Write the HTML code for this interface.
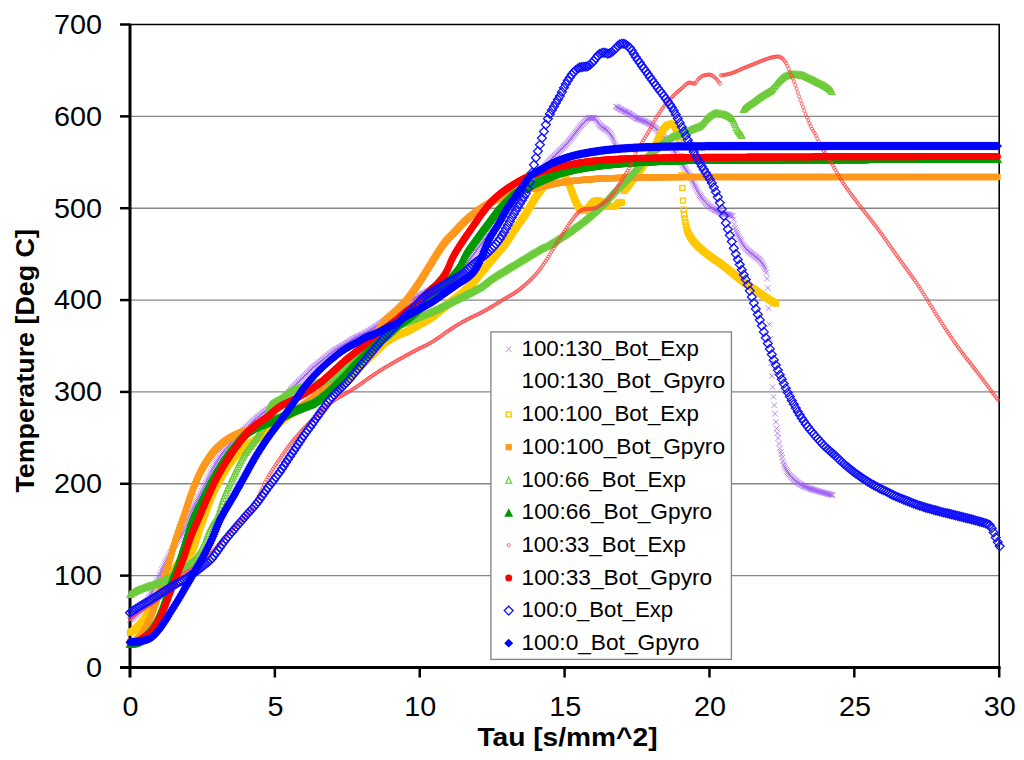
<!DOCTYPE html>
<html><head><meta charset="utf-8"><title>Chart</title>
<style>
html,body{margin:0;padding:0;background:#fff;}
body{width:1024px;height:760px;overflow:hidden;font-family:"Liberation Sans",sans-serif;}
svg{display:block;}
text{font-family:"Liberation Sans",sans-serif;fill:#000;}
.s{fill:none;stroke:none;}
.tk{font-size:28px;}
.lg{font-size:21.4px;}
.ti{font-size:25px;font-weight:bold;}
</style></head><body>
<svg width="1024" height="760" viewBox="0 0 1024 760">
<defs>
<marker id="mPX" markerUnits="userSpaceOnUse" markerWidth="8" markerHeight="8" refX="0" refY="0" viewBox="-4 -4 8 8" overflow="visible"><path d="M-2.75,-2.75L2.75,2.75M-2.75,2.75L2.75,-2.75" stroke="#A060F0" stroke-width="0.75" fill="none"/></marker>
<marker id="mYS" markerUnits="userSpaceOnUse" markerWidth="9" markerHeight="9" refX="0" refY="0" viewBox="-4.5 -4.5 9 9" overflow="visible"><rect x="-2.5" y="-2.4" width="5" height="4.8" stroke="#FFC800" stroke-width="1.4" fill="none"/></marker>
<marker id="mOS" markerUnits="userSpaceOnUse" markerWidth="9" markerHeight="9" refX="0" refY="0" viewBox="-4.5 -4.5 9 9" overflow="visible"><rect x="-3.15" y="-3.1" width="6.3" height="6.2" fill="#FF991C"/></marker>
<marker id="mLT" markerUnits="userSpaceOnUse" markerWidth="10" markerHeight="10" refX="0" refY="0" viewBox="-5 -5 10 10" overflow="visible"><path d="M0,-2.7L3,3.3L-3,3.3Z" stroke="#6ECC3C" stroke-width="1.2" fill="none"/></marker>
<marker id="mDT" markerUnits="userSpaceOnUse" markerWidth="10" markerHeight="10" refX="0" refY="0" viewBox="-5 -5 10 10" overflow="visible"><path d="M0,-4.35L4.45,4.35L-4.45,4.35Z" fill="#009900"/></marker>
<marker id="mRC" markerUnits="userSpaceOnUse" markerWidth="6" markerHeight="6" refX="0" refY="0" viewBox="-3 -3 6 6" overflow="visible"><circle r="1.6" stroke="#FF3C3C" stroke-width="0.75" fill="none"/></marker>
<marker id="mRF" markerUnits="userSpaceOnUse" markerWidth="9" markerHeight="9" refX="0" refY="0" viewBox="-4.5 -4.5 9 9" overflow="visible"><circle r="3.45" fill="#FF0000"/></marker>
<marker id="mBH" markerUnits="userSpaceOnUse" markerWidth="12" markerHeight="12" refX="0" refY="0" viewBox="-6 -6 12 12" overflow="visible"><path d="M0,-4.4L4.4,0L0,4.4L-4.4,0Z" stroke="#1010FF" stroke-width="1.3" fill="none"/></marker>
<marker id="mBF" markerUnits="userSpaceOnUse" markerWidth="12" markerHeight="12" refX="0" refY="0" viewBox="-6 -6 12 12" overflow="visible"><path d="M0,-4.35L4.5,0L0,4.35L-4.5,0Z" fill="#0000FF"/></marker></defs>
<rect x="0" y="0" width="1024" height="760" fill="#fff"/>
<g stroke="#868686" stroke-width="1.35"><line x1="130.0" y1="575.64" x2="999.2" y2="575.64"/><line x1="130.0" y1="483.79" x2="999.2" y2="483.79"/><line x1="130.0" y1="391.93" x2="999.2" y2="391.93"/><line x1="130.0" y1="300.07" x2="999.2" y2="300.07"/><line x1="130.0" y1="208.21" x2="999.2" y2="208.21"/><line x1="130.0" y1="116.36" x2="999.2" y2="116.36"/></g>
<path d="M130.0,24.5H999.2V667.5" fill="none" stroke="#000" stroke-width="1.6"/>
<g stroke="#000" stroke-width="3"><line x1="130.0" y1="23.8" x2="130.0" y2="677.5"/><line x1="120.0" y1="667.5" x2="1000.6" y2="667.5"/></g>
<g stroke="#000" stroke-width="2.5"><line x1="120.0" y1="575.64" x2="130.0" y2="575.64"/><line x1="120.0" y1="483.79" x2="130.0" y2="483.79"/><line x1="120.0" y1="391.93" x2="130.0" y2="391.93"/><line x1="120.0" y1="300.07" x2="130.0" y2="300.07"/><line x1="120.0" y1="208.21" x2="130.0" y2="208.21"/><line x1="120.0" y1="116.36" x2="130.0" y2="116.36"/><line x1="120.0" y1="24.50" x2="130.0" y2="24.50"/><line x1="274.87" y1="667.5" x2="274.87" y2="677.5"/><line x1="419.73" y1="667.5" x2="419.73" y2="677.5"/><line x1="564.60" y1="667.5" x2="564.60" y2="677.5"/><line x1="709.47" y1="667.5" x2="709.47" y2="677.5"/><line x1="854.33" y1="667.5" x2="854.33" y2="677.5"/><line x1="999.20" y1="667.5" x2="999.20" y2="677.5"/></g>
<polyline class="s" marker-start="url(#mPX)" marker-mid="url(#mPX)" marker-end="url(#mPX)" points="130.0,620.0 130.8,619.4 131.6,618.8 132.4,618.1 133.2,617.4 134.0,616.7 134.8,615.9 135.6,615.1 136.4,614.3 137.2,613.4 138.0,612.5 138.8,611.6 139.6,610.7 140.4,609.7 141.2,608.8 142.0,607.7 142.8,606.7 143.6,605.6 144.4,604.4 145.2,603.2 146.0,601.9 146.8,600.7 147.6,599.4 148.4,598.0 149.2,596.7 150.0,595.3 150.8,593.9 151.6,592.5 152.4,591.0 153.2,589.5 154.0,587.9 154.8,586.3 155.6,584.7 156.4,583.0 157.2,581.2 158.0,579.5 158.8,577.6 159.6,575.6 160.4,573.7 161.2,571.8 162.0,570.0 162.8,568.3 163.6,566.6 164.4,564.9 165.2,563.2 166.0,561.6 166.8,560.0 167.6,558.4 168.4,556.8 169.2,555.3 170.0,553.7 170.8,552.2 171.6,550.7 172.4,549.3 173.2,547.9 174.0,546.6 174.8,545.3 175.6,544.0 176.4,542.8 177.2,541.6 178.0,540.4 178.8,539.2 179.6,537.9 180.4,536.6 181.2,535.3 182.0,533.9 182.8,532.4 183.6,530.8 184.4,529.1 185.2,527.2 186.0,525.1 186.8,522.9 187.6,520.7 188.4,518.5 189.2,516.5 190.0,514.7 190.8,512.9 191.6,511.2 192.4,509.5 193.2,507.8 194.0,506.2 194.8,504.7 195.6,503.1 196.4,501.6 197.2,500.0 198.0,498.5 198.8,497.0 199.6,495.5 200.4,494.0 201.2,492.5 202.0,490.9 202.8,489.4 203.6,487.8 204.4,486.2 205.2,484.5 206.0,482.9 206.8,481.2 207.6,479.5 208.4,477.8 209.2,476.1 210.0,474.4 210.8,472.7 211.6,471.1 212.4,469.5 213.2,468.0 214.0,466.5 214.8,465.1 215.6,463.8 216.4,462.4 217.2,461.1 218.0,459.9 218.8,458.6 219.6,457.4 220.4,456.2 221.2,455.0 222.0,453.9 222.8,452.8 223.6,451.7 224.4,450.6 225.2,449.6 226.0,448.6 226.8,447.7 227.6,446.7 228.4,445.8 229.2,444.9 230.0,443.9 230.8,443.1 231.6,442.2 232.4,441.3 233.2,440.5 234.0,439.6 234.8,438.8 235.6,438.0 236.4,437.2 237.2,436.4 238.0,435.6 238.8,434.8 239.6,434.1 240.4,433.3 241.2,432.5 242.0,431.8 242.8,431.0 243.6,430.3 244.4,429.5 245.2,428.8 246.0,428.0 246.8,427.2 247.6,426.5 248.4,425.7 249.2,425.0 250.0,424.3 250.8,423.5 251.6,422.8 252.4,422.0 253.2,421.3 254.0,420.6 254.8,419.9 255.6,419.1 256.4,418.4 257.2,417.7 258.0,417.0 258.8,416.4 259.6,415.7 260.4,415.0 261.2,414.4 262.0,413.7 262.8,413.1 263.6,412.5 264.4,411.9 265.2,411.3 266.0,410.7 266.8,410.1 267.6,409.6 268.4,409.1 269.2,408.6 270.0,408.2 270.8,407.7 271.6,407.3 272.4,406.9 273.2,406.5 274.0,406.1 274.8,405.6 275.6,405.2 276.4,404.8 277.2,404.3 278.0,403.8 278.8,403.3 279.6,402.7 280.4,402.1 281.2,401.4 282.0,400.6 282.8,399.8 283.6,398.8 284.4,397.9 285.2,396.8 286.0,395.8 286.8,394.7 287.6,393.7 288.4,392.6 289.2,391.6 290.0,390.6 290.8,389.7 291.6,388.9 292.4,388.0 293.2,387.2 294.0,386.4 294.8,385.6 295.6,384.8 296.4,384.0 297.2,383.3 298.0,382.5 298.8,381.7 299.6,381.0 300.4,380.2 301.2,379.4 302.0,378.6 302.8,377.8 303.6,377.0 304.4,376.1 305.2,375.3 306.0,374.5 306.8,373.7 307.6,372.9 308.4,372.0 309.2,371.2 310.0,370.5 310.8,369.7 311.6,369.0 312.4,368.2 313.2,367.5 314.0,366.9 314.8,366.2 315.6,365.5 316.4,364.9 317.2,364.3 318.0,363.6 318.8,363.0 319.6,362.4 320.4,361.7 321.2,361.1 322.0,360.5 322.8,359.8 323.6,359.2 324.4,358.5 325.2,357.9 326.0,357.2 326.8,356.5 327.6,355.9 328.4,355.2 329.2,354.5 330.0,353.9 330.8,353.3 331.6,352.7 332.4,352.1 333.2,351.5 334.0,351.0 334.8,350.4 335.6,349.9 336.4,349.4 337.2,348.9 338.0,348.4 338.8,347.9 339.6,347.5 340.4,347.0 341.2,346.5 342.0,346.0 342.8,345.6 343.6,345.1 344.4,344.6 345.2,344.1 346.0,343.5 346.8,343.0 347.6,342.5 348.4,342.0 349.2,341.5 350.0,341.0 350.8,340.5 351.6,340.0 352.4,339.5 353.2,339.1 354.0,338.6 354.8,338.2 355.6,337.8 356.4,337.4 357.2,337.0 358.0,336.6 358.8,336.3 359.6,335.9 360.4,335.6 361.2,335.2 362.0,334.8 362.8,334.5 363.6,334.1 364.4,333.7 365.2,333.2 366.0,332.8 366.8,332.3 367.6,331.9 368.4,331.4 369.2,330.9 370.0,330.4 370.8,329.9 371.6,329.4 372.4,328.9 373.2,328.4 374.0,327.9 374.8,327.3 375.6,326.8 376.4,326.3 377.2,325.7 378.0,325.2 378.8,324.6 379.6,324.1 380.4,323.5 381.2,322.9 382.0,322.4 382.8,321.8 383.6,321.2 384.4,320.6 385.2,320.0 386.0,319.4 386.8,318.8 387.6,318.2 388.4,317.6 389.2,317.0 390.0,316.4 390.8,315.9 391.6,315.3 392.4,314.7 393.2,314.1 394.0,313.5 394.8,312.9 395.6,312.3 396.4,311.7 397.2,311.1 398.0,310.5 398.8,309.9 399.6,309.3 400.4,308.7 401.2,308.1 402.0,307.4 402.8,306.8 403.6,306.2 404.4,305.6 405.2,305.0 406.0,304.3 406.8,303.7 407.6,303.1 408.4,302.5 409.2,301.9 410.0,301.4 410.8,300.8 411.6,300.2 412.4,299.7 413.2,299.1 414.0,298.6 414.8,298.1 415.6,297.6 416.4,297.2 417.2,296.7 418.0,296.2 418.8,295.8 419.6,295.4 420.4,295.0 421.2,294.5 422.0,294.1 422.8,293.7 423.6,293.3 424.4,293.0 425.2,292.6 426.0,292.2 426.8,291.8 427.6,291.4 428.4,291.1 429.2,290.7 430.0,290.3 430.8,289.9 431.6,289.6 432.4,289.2 433.2,288.8 434.0,288.4 434.8,288.0 435.6,287.6 436.4,287.2 437.2,286.8 438.0,286.3 438.8,285.9 439.6,285.4 440.4,285.0 441.2,284.5 442.0,284.0 442.8,283.5 443.6,283.0 444.4,282.5 445.2,282.0 446.0,281.5 446.8,280.9 447.6,280.4 448.4,279.9 449.2,279.3 450.0,278.8 450.8,278.2 451.6,277.6 452.4,277.0 453.2,276.4 454.0,275.8 454.8,275.2 455.6,274.6 456.4,273.9 457.2,273.3 458.0,272.6 458.8,271.9 459.6,271.2 460.4,270.5 461.2,269.7 462.0,269.0 462.8,268.2 463.6,267.4 464.4,266.5 465.2,265.6 466.0,264.6 466.8,263.6 467.6,262.6 468.4,261.5 469.2,260.4 470.0,259.3 470.8,258.2 471.6,257.1 472.4,256.0 473.2,254.9 474.0,253.8 474.8,252.7 475.6,251.6 476.4,250.5 477.2,249.4 478.0,248.3 478.8,247.1 479.6,246.0 480.4,244.9 481.2,243.8 482.0,242.7 482.8,241.6 483.6,240.5 484.4,239.5 485.2,238.5 486.0,237.4 486.8,236.4 487.6,235.4 488.4,234.4 489.2,233.5 490.0,232.5 490.8,231.5 491.6,230.5 492.4,229.6 493.2,228.6 494.0,227.6 494.8,226.7 495.6,225.7 496.4,224.7 497.2,223.7 498.0,222.8 498.8,221.8 499.6,220.8 500.4,219.9 501.2,218.9 502.0,217.9 502.8,217.0 503.6,216.1 504.4,215.2 505.2,214.3 506.0,213.5 506.8,212.6 507.6,211.8 508.4,211.1 509.2,210.3 510.0,209.5 510.8,208.8 511.6,208.0 512.4,207.2 513.2,206.4 514.0,205.6 514.8,204.8 515.6,203.9 516.4,203.0 517.2,202.1 518.0,201.1 518.8,200.1 519.6,199.1 520.4,198.0 521.2,196.9 522.0,195.9 522.8,194.8 523.6,193.7 524.4,192.6 525.2,191.5 526.0,190.4 526.8,189.3 527.6,188.2 528.4,187.1 529.2,186.0 530.0,185.0 530.8,184.0 531.6,182.9 532.4,181.9 533.2,180.9 534.0,179.8 534.8,178.8 535.6,177.7 536.4,176.7 537.2,175.6 538.0,174.6 538.8,173.6 539.6,172.6 540.4,171.6 541.2,170.6 542.0,169.6 542.8,168.6 543.6,167.6 544.4,166.6 545.2,165.7 546.0,164.8 546.8,163.9 547.6,163.0 548.4,162.1 549.2,161.3 550.0,160.4 550.8,159.6 551.6,158.8 552.4,158.0 553.2,157.2 554.0,156.4 554.8,155.7 555.6,154.9 556.4,154.1 557.2,153.3 558.0,152.5 558.8,151.7 559.6,150.9 560.4,150.2 561.2,149.4 562.0,148.6 562.8,147.8 563.6,147.0 564.4,146.2 565.2,145.4 566.0,144.5 566.8,143.6 567.6,142.7 568.4,141.7 569.2,140.7 570.0,139.7 570.8,138.7 571.6,137.7 572.4,136.6 573.2,135.6 574.0,134.6 574.8,133.6 575.6,132.6 576.4,131.5 577.2,130.5 578.0,129.4 578.8,128.4 579.6,127.3 580.4,126.3 581.2,125.4 582.0,124.5 582.8,123.6 583.6,122.8 584.4,121.9 585.2,121.0 586.0,120.1 586.8,119.3 587.6,118.7 588.4,118.2 589.2,117.9 590.0,117.9 590.8,117.9 591.6,117.9 592.4,117.9 593.2,117.9 594.0,117.9 594.8,118.4 595.6,119.1 596.4,120.2 597.2,121.4 598.0,122.7 598.8,123.9 599.6,124.9 600.4,125.7 601.2,126.3 602.0,126.9 602.8,127.4 603.6,128.0 604.4,128.5 605.2,129.0 606.0,129.5 606.8,130.1 607.6,130.8 608.4,131.6 609.2,132.5 610.0,133.6 610.8,134.7 611.6,136.1 612.4,137.5 613.2,139.3 614.0,141.5 614.8,143.8 615.6,145.9 616.4,147.5 617.2,148.8 618.0,150.0"/>
<polyline class="s" marker-start="url(#mPX)" marker-mid="url(#mPX)" marker-end="url(#mPX)" points="615.8,106.3 616.6,106.8 617.4,107.3 618.2,107.8 619.0,108.3 619.8,108.8 620.6,109.3 621.4,109.7 622.2,110.1 623.0,110.5 623.8,110.9 624.6,111.3 625.4,111.6 626.2,112.0 627.0,112.4 627.8,112.8 628.6,113.2 629.4,113.6 630.2,114.1 631.0,114.7 631.8,115.2 632.6,115.8 633.4,116.4 634.2,116.9 635.0,117.5 635.8,117.9 636.6,118.3 637.4,118.6 638.2,119.0 639.0,119.3 639.8,119.6 640.6,119.9 641.4,120.1 642.2,120.4 643.0,120.7 643.8,121.0 644.6,121.3 645.4,121.7 646.2,122.1 647.0,122.5 647.8,122.9 648.6,123.3 649.4,123.8 650.2,124.2 651.0,124.7 651.8,125.3 652.6,125.8 653.4,126.4 654.2,127.0 655.0,127.6 655.8,128.4 656.6,129.1 657.4,130.0 658.2,130.9 659.0,131.8 659.8,132.7 660.6,133.6 661.4,134.4 662.2,135.3 663.0,136.2 663.8,137.0 664.6,137.9 665.4,138.8 666.2,139.8 667.0,140.7 667.8,141.7 668.6,142.8 669.4,143.9 670.2,145.0 671.0,146.2 671.8,147.4 672.6,148.6 673.4,149.9 674.2,151.1 675.0,152.4 675.8,153.7 676.6,155.0 677.4,156.3 678.2,157.6 679.0,159.0 679.8,160.4 680.6,161.7 681.4,163.0 682.2,164.3 683.0,165.5 683.8,166.7 684.6,167.9 685.4,169.0 686.2,170.2 687.0,171.4 687.8,172.7 688.6,174.0 689.4,175.4 690.2,176.9 691.0,178.4 691.8,179.9 692.6,181.4 693.4,182.9 694.2,184.4 695.0,185.9 695.8,187.5 696.6,189.1 697.4,190.7 698.2,192.3 699.0,193.8 699.8,195.2 700.6,196.4 701.4,197.5 702.2,198.6 703.0,199.6 703.8,200.6 704.6,201.5 705.4,202.4 706.2,203.2 707.0,204.1 707.8,204.8 708.6,205.6 709.4,206.2 710.2,206.9 711.0,207.5 711.8,208.0 712.6,208.6 713.4,209.1 714.2,209.5 715.0,210.0 715.8,210.4 716.6,210.8 717.4,211.2 718.2,211.6 719.0,211.9 719.8,212.3 720.6,212.6 721.4,212.9 722.2,213.2 723.0,213.5 723.8,213.7 724.6,213.9 725.4,214.0 726.2,214.1 727.0,214.3 727.8,214.4 728.6,214.6 729.4,214.8 730.2,215.1 731.0,215.4 731.8,215.8 732.6,216.3 733.4,219.3 734.2,224.4 735.0,227.8 735.8,230.2 736.6,232.3 737.4,234.1 738.2,235.8 739.0,237.4 739.8,239.0 740.6,240.5 741.4,242.0 742.2,243.4 743.0,244.7 743.8,245.9 744.6,247.0 745.4,248.0 746.2,248.9 747.0,249.7 747.8,250.5 748.6,251.2 749.4,251.9 750.2,252.5 751.0,253.1 751.8,253.8 752.6,254.4 753.4,255.0 754.2,255.7 755.0,256.3 755.8,256.9 756.6,257.5 757.4,258.1 758.2,258.8 759.0,259.5 759.8,260.3 760.6,261.2 761.4,262.2 762.2,263.3 763.0,264.5 763.8,266.0 764.6,267.7 765.4,269.8 766.2,272.7 767.0,278.6 767.8,288.0 768.6,308.2 769.4,324.3 770.2,338.8 771.0,363.2 771.8,375.8 772.6,387.1 773.4,396.8 774.2,405.3 775.0,413.7 775.8,421.9 776.6,428.4 777.4,433.3 778.2,438.1 779.0,443.6 779.8,448.5 780.6,451.9 781.4,454.6 782.2,457.8 783.0,461.2 783.8,464.1 784.6,466.3 785.4,468.1 786.2,469.7 787.0,471.1 787.8,472.3 788.6,473.5 789.4,474.6 790.2,475.6 791.0,476.5 791.8,477.4 792.6,478.2 793.4,478.9 794.2,479.7 795.0,480.3 795.8,481.0 796.6,481.6 797.4,482.3 798.2,482.9 799.0,483.4 799.8,484.0 800.6,484.5 801.4,484.9 802.2,485.4 803.0,485.8 803.8,486.1 804.6,486.5 805.4,486.8 806.2,487.2 807.0,487.5 807.8,487.8 808.6,488.1 809.4,488.4 810.2,488.7 811.0,489.0 811.8,489.2 812.6,489.5 813.4,489.8 814.2,490.0 815.0,490.3 815.8,490.5 816.6,490.7 817.4,491.0 818.2,491.2 819.0,491.4 819.8,491.7 820.6,491.9 821.4,492.1 822.2,492.3 823.0,492.5 823.8,492.8 824.6,493.0 825.4,493.2 826.2,493.4 827.0,493.7 827.8,493.9 828.6,494.1 829.4,494.3 830.2,494.5 831.0,494.8 831.8,495.0 832.6,495.2"/><polyline class="s" marker-start="url(#mYS)" marker-mid="url(#mYS)" marker-end="url(#mYS)" points="130.0,632.6 130.6,632.3 131.2,632.0 131.8,631.6 132.4,631.2 133.0,630.8 133.6,630.4 134.2,629.9 134.8,629.4 135.4,628.9 136.0,628.4 136.6,627.8 137.2,627.2 137.8,626.6 138.4,626.0 139.0,625.4 139.6,624.7 140.2,624.1 140.8,623.4 141.4,622.7 142.0,622.0 142.6,621.2 143.2,620.3 143.8,619.4 144.4,618.4 145.0,617.5 145.6,616.4 146.2,615.4 146.8,614.3 147.4,613.2 148.0,612.1 148.6,611.0 149.2,609.9 149.8,608.9 150.4,607.8 151.0,606.7 151.6,605.7 152.2,604.7 152.8,603.7 153.4,602.6 154.0,601.6 154.6,600.6 155.2,599.6 155.8,598.5 156.4,597.5 157.0,596.5 157.6,595.4 158.2,594.4 158.8,593.4 159.4,592.4 160.0,591.3 160.6,590.3 161.2,589.3 161.8,588.3 162.4,587.3 163.0,586.3 163.6,585.3 164.2,584.3 164.8,583.3 165.4,582.3 166.0,581.3 166.6,580.3 167.2,579.3 167.8,578.3 168.4,577.4 169.0,576.4 169.6,575.5 170.2,574.6 170.8,573.7 171.4,572.8 172.0,572.0 172.6,571.2 173.2,570.4 173.8,569.6 174.4,568.8 175.0,568.0 175.6,567.3 176.2,566.5 176.8,565.8 177.4,565.1 178.0,564.4 178.6,563.7 179.2,563.0 179.8,562.3 180.4,561.7 181.0,561.0 181.6,560.4 182.2,559.8 182.8,559.2 183.4,558.7 184.0,558.2 184.6,557.8 185.2,557.3 185.8,556.9 186.4,556.5 187.0,556.1 187.6,555.6 188.2,555.1 188.8,554.6 189.4,554.1 190.0,553.5 190.6,552.8 191.2,552.1 191.8,551.3 192.4,550.3 193.0,549.1 193.6,547.7 194.2,546.2 194.8,544.5 195.4,542.7 196.0,540.9 196.6,539.0 197.2,537.0 197.8,535.1 198.4,533.2 199.0,531.3 199.6,529.5 200.2,527.8 200.8,526.2 201.4,524.5 202.0,522.8 202.6,521.1 203.2,519.5 203.8,517.8 204.4,516.1 205.0,514.5 205.6,512.8 206.2,511.1 206.8,509.4 207.4,507.8 208.0,506.1 208.6,504.5 209.2,502.9 209.8,501.3 210.4,499.8 211.0,498.3 211.6,496.8 212.2,495.4 212.8,494.0 213.4,492.7 214.0,491.3 214.6,490.0 215.2,488.7 215.8,487.5 216.4,486.2 217.0,485.0 217.6,483.8 218.2,482.6 218.8,481.4 219.4,480.3 220.0,479.2 220.6,478.1 221.2,477.0 221.8,475.9 222.4,474.9 223.0,473.8 223.6,472.8 224.2,471.8 224.8,470.9 225.4,469.9 226.0,468.9 226.6,468.0 227.2,467.1 227.8,466.2 228.4,465.3 229.0,464.4 229.6,463.5 230.2,462.7 230.8,461.9 231.4,461.1 232.0,460.3 232.6,459.5 233.2,458.8 233.8,458.0 234.4,457.3 235.0,456.6 235.6,455.9 236.2,455.2 236.8,454.5 237.4,453.8 238.0,453.1 238.6,452.5 239.2,451.9 239.8,451.2 240.4,450.6 241.0,450.1 241.6,449.5 242.2,448.9 242.8,448.4 243.4,447.9 244.0,447.4 244.6,446.9 245.2,446.5 245.8,446.0 246.4,445.6 247.0,445.2 247.6,444.8 248.2,444.4 248.8,444.0 249.4,443.7 250.0,443.3 250.6,442.9 251.2,442.6 251.8,442.2 252.4,441.9 253.0,441.5 253.6,441.2 254.2,440.8 254.8,440.4 255.4,440.1 256.0,439.7 256.6,439.3 257.2,438.9 257.8,438.6 258.4,438.2 259.0,437.9 259.6,437.5 260.2,437.2 260.8,436.8 261.4,436.5 262.0,436.1 262.6,435.7 263.2,435.4 263.8,435.0 264.4,434.6 265.0,434.2 265.6,433.8 266.2,433.4 266.8,433.0 267.4,432.6 268.0,432.2 268.6,431.7 269.2,431.2 269.8,430.7 270.4,430.2 271.0,429.7 271.6,429.2 272.2,428.7 272.8,428.1 273.4,427.6 274.0,427.2 274.6,426.7 275.2,426.2 275.8,425.7 276.4,425.2 277.0,424.7 277.6,424.2 278.2,423.6 278.8,423.1 279.4,422.6 280.0,422.1 280.6,421.6 281.2,421.1 281.8,420.6 282.4,420.1 283.0,419.6 283.6,419.1 284.2,418.6 284.8,418.2 285.4,417.7 286.0,417.2 286.6,416.8 287.2,416.3 287.8,415.9 288.4,415.4 289.0,415.0 289.6,414.6 290.2,414.2 290.8,413.8 291.4,413.5 292.0,413.1 292.6,412.7 293.2,412.4 293.8,412.0 294.4,411.7 295.0,411.4 295.6,411.1 296.2,410.8 296.8,410.5 297.4,410.2 298.0,409.9 298.6,409.6 299.2,409.3 299.8,409.0 300.4,408.7 301.0,408.4 301.6,408.1 302.2,407.9 302.8,407.6 303.4,407.3 304.0,407.0 304.6,406.7 305.2,406.4 305.8,406.2 306.4,405.9 307.0,405.6 307.6,405.3 308.2,405.0 308.8,404.7 309.4,404.4 310.0,404.1 310.6,403.8 311.2,403.4 311.8,403.1 312.4,402.8 313.0,402.4 313.6,402.1 314.2,401.8 314.8,401.4 315.4,401.1 316.0,400.7 316.6,400.4 317.2,400.1 317.8,399.7 318.4,399.4 319.0,399.0 319.6,398.7 320.2,398.3 320.8,397.9 321.4,397.6 322.0,397.2 322.6,396.9 323.2,396.5 323.8,396.1 324.4,395.7 325.0,395.4 325.6,395.0 326.2,394.6 326.8,394.2 327.4,393.8 328.0,393.4 328.6,393.0 329.2,392.6 329.8,392.2 330.4,391.8 331.0,391.4 331.6,391.0 332.2,390.6 332.8,390.1 333.4,389.7 334.0,389.3 334.6,388.8 335.2,388.4 335.8,387.9 336.4,387.4 337.0,387.0 337.6,386.5 338.2,386.0 338.8,385.5 339.4,385.0 340.0,384.5 340.6,384.0 341.2,383.5 341.8,383.0 342.4,382.4 343.0,381.9 343.6,381.4 344.2,380.9 344.8,380.3 345.4,379.8 346.0,379.3 346.6,378.7 347.2,378.2 347.8,377.6 348.4,377.1 349.0,376.5 349.6,376.0 350.2,375.5 350.8,374.9 351.4,374.4 352.0,373.8 352.6,373.3 353.2,372.7 353.8,372.2 354.4,371.6 355.0,371.1 355.6,370.5 356.2,370.0 356.8,369.4 357.4,368.9 358.0,368.3 358.6,367.7 359.2,367.2 359.8,366.6 360.4,366.0 361.0,365.5 361.6,364.9 362.2,364.3 362.8,363.7 363.4,363.1 364.0,362.6 364.6,362.0 365.2,361.4 365.8,360.8 366.4,360.2 367.0,359.6 367.6,359.1 368.2,358.5 368.8,357.9 369.4,357.3 370.0,356.7 370.6,356.2 371.2,355.6 371.8,355.0 372.4,354.4 373.0,353.9 373.6,353.3 374.2,352.7 374.8,352.2 375.4,351.6 376.0,351.1 376.6,350.5 377.2,349.9 377.8,349.3 378.4,348.7 379.0,348.2 379.6,347.6 380.2,347.0 380.8,346.4 381.4,345.9 382.0,345.3 382.6,344.8 383.2,344.2 383.8,343.7 384.4,343.2 385.0,342.8 385.6,342.3 386.2,341.9 386.8,341.4 387.4,341.0 388.0,340.6 388.6,340.2 389.2,339.8 389.8,339.4 390.4,339.1 391.0,338.7 391.6,338.3 392.2,338.0 392.8,337.7 393.4,337.3 394.0,337.0 394.6,336.7 395.2,336.4 395.8,336.1 396.4,335.8 397.0,335.5 397.6,335.3 398.2,335.0 398.8,334.8 399.4,334.6 400.0,334.3 400.6,334.1 401.2,333.9 401.8,333.7 402.4,333.5 403.0,333.2 403.6,333.0 404.2,332.8 404.8,332.5 405.4,332.3 406.0,332.0 406.6,331.8 407.2,331.5 407.8,331.2 408.4,330.9 409.0,330.6 409.6,330.3 410.2,330.0 410.8,329.6 411.4,329.3 412.0,328.9 412.6,328.6 413.2,328.2 413.8,327.9 414.4,327.5 415.0,327.2 415.6,326.8 416.2,326.5 416.8,326.1 417.4,325.8 418.0,325.4 418.6,325.1 419.2,324.8 419.8,324.4 420.4,324.1 421.0,323.8 421.6,323.4 422.2,323.1 422.8,322.7 423.4,322.4 424.0,322.1 424.6,321.7 425.2,321.4 425.8,321.0 426.4,320.7 427.0,320.3 427.6,320.0 428.2,319.6 428.8,319.2 429.4,318.9 430.0,318.5 430.6,318.1 431.2,317.7 431.8,317.3 432.4,316.8 433.0,316.4 433.6,316.0 434.2,315.5 434.8,315.0 435.4,314.5 436.0,314.1 436.6,313.6 437.2,313.1 437.8,312.6 438.4,312.1 439.0,311.6 439.6,311.1 440.2,310.6 440.8,310.1 441.4,309.6 442.0,309.1 442.6,308.6 443.2,308.1 443.8,307.6 444.4,307.1 445.0,306.7 445.6,306.2 446.2,305.7 446.8,305.2 447.4,304.7 448.0,304.2 448.6,303.7 449.2,303.2 449.8,302.8 450.4,302.3 451.0,301.8 451.6,301.3 452.2,300.8 452.8,300.3 453.4,299.9 454.0,299.4 454.6,298.9 455.2,298.5 455.8,298.0 456.4,297.6 457.0,297.1 457.6,296.6 458.2,296.2 458.8,295.7 459.4,295.2 460.0,294.8 460.6,294.3 461.2,293.8 461.8,293.3 462.4,292.8 463.0,292.3 463.6,291.7 464.2,291.2 464.8,290.7 465.4,290.1 466.0,289.5 466.6,288.9 467.2,288.4 467.8,287.8 468.4,287.2 469.0,286.6 469.6,286.0 470.2,285.3 470.8,284.7 471.4,284.1 472.0,283.4 472.6,282.8 473.2,282.1 473.8,281.5 474.4,280.8 475.0,280.1 475.6,279.5 476.2,278.8 476.8,278.1 477.4,277.3 478.0,276.6 478.6,275.9 479.2,275.1 479.8,274.4 480.4,273.7 481.0,272.9 481.6,272.2 482.2,271.4 482.8,270.7 483.4,270.0 484.0,269.2 484.6,268.5 485.2,267.8 485.8,267.1 486.4,266.3 487.0,265.6 487.6,264.9 488.2,264.2 488.8,263.4 489.4,262.7 490.0,262.0 490.6,261.2 491.2,260.5 491.8,259.8 492.4,259.1 493.0,258.3 493.6,257.6 494.2,256.9 494.8,256.2 495.4,255.5 496.0,254.8 496.6,254.1 497.2,253.4 497.8,252.7 498.4,252.0 499.0,251.3 499.6,250.6 500.2,249.9 500.8,249.2 501.4,248.5 502.0,247.8 502.6,247.1 503.2,246.4 503.8,245.6 504.4,244.9 505.0,244.1 505.6,243.3 506.2,242.5 506.8,241.6 507.4,240.8 508.0,239.9 508.6,239.0 509.2,238.1 509.8,237.2 510.4,236.3 511.0,235.3 511.6,234.4 512.2,233.5 512.8,232.5 513.4,231.6 514.0,230.7 514.6,229.8 515.2,228.9 515.8,228.0 516.4,227.1 517.0,226.3 517.6,225.4 518.2,224.6 518.8,223.7 519.4,222.9 520.0,222.1 520.6,221.2 521.2,220.4 521.8,219.6 522.4,218.7 523.0,217.9 523.6,217.0 524.2,216.1 524.8,215.3 525.4,214.4 526.0,213.5 526.6,212.5 527.2,211.6 527.8,210.6 528.4,209.6 529.0,208.6 529.6,207.6 530.2,206.5 530.8,205.5 531.4,204.4 532.0,203.4 532.6,202.3 533.2,201.3 533.8,200.3 534.4,199.3 535.0,198.3 535.6,197.3 536.2,196.4 536.8,195.5 537.4,194.6 538.0,193.8 538.6,192.9 539.2,192.1 539.8,191.3 540.4,190.5 541.0,189.8 541.6,189.0 542.2,188.2 542.8,187.5 543.4,186.8 544.0,186.0 544.6,185.3 545.2,184.5 545.8,183.7 546.4,183.0 547.0,182.2 547.6,181.5 548.2,180.8 548.8,180.1 549.4,179.4 550.0,178.8 550.6,178.1 551.2,177.5 551.8,177.0 552.4,176.5 553.0,176.0 553.6,175.5 554.2,175.1 554.8,174.6 555.4,174.1 556.0,173.7 556.6,173.3 557.2,172.9 557.8,172.6 558.4,172.3 559.0,172.1 559.6,172.0 560.2,172.0 560.8,172.2 561.4,172.4 562.0,172.9 562.6,173.4 563.2,174.1 563.8,174.9 564.4,175.7 565.0,176.6 565.6,177.6 566.2,178.5 566.8,179.5 567.4,180.5 568.0,181.6 568.6,183.0 569.2,184.5 569.8,186.1 570.4,187.8 571.0,189.4 571.6,191.0 572.2,192.5 572.8,194.1 573.4,195.7 574.0,197.3 574.6,198.8 575.2,200.3 575.8,201.6 576.4,202.9 577.0,204.2 577.6,205.4 578.2,206.6 578.8,207.6 579.4,208.4 580.0,209.0 580.6,209.4 581.2,209.9 581.8,210.2 582.4,210.5 583.0,210.8 583.6,210.9 584.2,211.0 584.8,210.9 585.4,210.6 586.0,210.2 586.6,209.7 587.2,209.1 587.8,208.5 588.4,207.9 589.0,207.2 589.6,206.5 590.2,205.6 590.8,204.7 591.4,203.9 592.0,203.1 592.6,202.6 593.2,202.2 593.8,201.7 594.4,201.4 595.0,201.0 595.6,200.7 596.2,200.6 596.8,200.5 597.4,200.5 598.0,200.6 598.6,200.8 599.2,200.9 599.8,201.1 600.4,201.4 601.0,201.6 601.6,202.0 602.2,202.6 602.8,203.3 603.4,204.0 604.0,204.8 604.6,205.4 605.2,205.8 605.8,206.0 606.4,206.2 607.0,206.4 607.6,206.6 608.2,206.7 608.8,206.8 609.4,206.8 610.0,206.8 610.6,206.8 611.2,206.7 611.8,206.7 612.4,206.6 613.0,206.5 613.6,206.4 614.2,206.2 614.8,206.1 615.4,205.9 616.0,205.7 616.6,205.2 617.2,204.4 617.8,203.5 618.4,202.9 619.0,202.6 619.6,202.6 620.2,202.6 620.8,202.6 621.4,202.6 622.0,202.6"/>
<polyline class="s" marker-start="url(#mYS)" marker-mid="url(#mYS)" marker-end="url(#mYS)" points="624.2,191.0 624.8,190.2 625.4,189.4 626.0,188.6 626.6,187.8 627.2,187.0 627.8,186.2 628.4,185.4 629.0,184.6 629.6,183.8 630.2,183.0 630.8,182.2 631.4,181.4 632.0,180.6 632.6,179.8 633.2,179.0 633.8,178.2 634.4,177.4 635.0,176.6 635.6,175.8 636.2,175.0 636.8,174.2 637.4,173.4 638.0,172.6 638.6,171.8 639.2,171.0 639.8,170.2 640.4,169.4 641.0,168.6 641.6,167.8 642.2,167.0 642.8,166.2 643.4,165.3 644.0,164.5 644.6,163.6 645.2,162.7 645.8,161.8 646.4,160.8 647.0,159.9 647.6,158.9 648.2,157.9 648.8,157.0 649.4,155.9 650.0,154.9 650.6,153.9 651.2,152.8 651.8,151.8 652.4,150.7 653.0,149.7 653.6,148.6 654.2,147.5 654.8,146.4 655.4,145.2 656.0,144.0 656.6,142.8 657.2,141.4 657.8,140.1 658.4,138.7 659.0,137.3 659.6,136.0 660.2,134.7 660.8,133.5 661.4,132.3 662.0,131.3 662.6,130.3 663.2,129.5 663.8,128.8 664.4,128.1 665.0,127.4 665.6,126.7 666.2,126.2 666.8,125.6 667.4,125.2 668.0,124.9 668.6,124.6 669.2,124.4 669.8,124.2 670.4,124.0 671.0,123.9 671.6,123.8 672.2,123.7 672.8,123.7 673.4,124.1 674.0,124.9 674.6,125.9 675.2,127.2 675.8,128.6 676.4,130.1 677.0,131.5 677.6,132.9 678.2,134.5 678.8,136.4 679.4,138.7 680.0,141.6 680.6,146.0 681.2,155.9 681.8,175.1 682.4,187.9 683.0,200.6 683.6,209.6 684.2,214.7 684.8,218.4 685.4,222.0 686.0,225.5 686.6,228.6 687.2,230.5 687.8,232.0 688.4,233.3 689.0,234.4 689.6,235.5 690.2,236.5 690.8,237.5 691.4,238.5 692.0,239.3 692.6,240.2 693.2,241.0 693.8,241.7 694.4,242.4 695.0,243.1 695.6,243.8 696.2,244.4 696.8,245.1 697.4,245.7 698.0,246.2 698.6,246.8 699.2,247.4 699.8,247.9 700.4,248.5 701.0,249.0 701.6,249.5 702.2,250.1 702.8,250.6 703.4,251.1 704.0,251.6 704.6,252.1 705.2,252.5 705.8,253.0 706.4,253.5 707.0,253.9 707.6,254.4 708.2,254.9 708.8,255.3 709.4,255.8 710.0,256.2 710.6,256.7 711.2,257.1 711.8,257.5 712.4,258.0 713.0,258.4 713.6,258.8 714.2,259.2 714.8,259.7 715.4,260.1 716.0,260.5 716.6,260.9 717.2,261.3 717.8,261.7 718.4,262.1 719.0,262.5 719.6,262.9 720.2,263.3 720.8,263.7 721.4,264.2 722.0,264.6 722.6,265.1 723.2,265.5 723.8,266.0 724.4,266.5 725.0,267.0 725.6,267.4 726.2,267.9 726.8,268.4 727.4,268.9 728.0,269.4 728.6,269.9 729.2,270.4 729.8,270.9 730.4,271.4 731.0,271.9 731.6,272.4 732.2,272.9 732.8,273.4 733.4,273.8 734.0,274.3 734.6,274.8 735.2,275.3 735.8,275.8 736.4,276.3 737.0,276.7 737.6,277.2 738.2,277.7 738.8,278.2 739.4,278.7 740.0,279.1 740.6,279.6 741.2,280.1 741.8,280.5 742.4,281.0 743.0,281.5 743.6,281.9 744.2,282.3 744.8,282.8 745.4,283.2 746.0,283.6 746.6,284.1 747.2,284.5 747.8,284.9 748.4,285.3 749.0,285.7 749.6,286.2 750.2,286.6 750.8,287.0 751.4,287.4 752.0,287.8 752.6,288.2 753.2,288.7 753.8,289.1 754.4,289.5 755.0,289.9 755.6,290.3 756.2,290.8 756.8,291.2 757.4,291.6 758.0,292.0 758.6,292.4 759.2,292.9 759.8,293.3 760.4,293.7 761.0,294.1 761.6,294.5 762.2,294.9 762.8,295.4 763.4,295.8 764.0,296.2 764.6,296.6 765.2,297.0 765.8,297.4 766.4,297.8 767.0,298.1 767.6,298.5 768.2,298.9 768.8,299.3 769.4,299.7 770.0,300.1 770.6,300.4 771.2,300.8 771.8,301.2 772.4,301.5 773.0,301.9 773.6,302.2 774.2,302.6 774.8,302.9 775.4,303.3 776.0,303.6"/><polyline class="s" marker-start="url(#mOS)" marker-mid="url(#mOS)" marker-end="url(#mOS)" points="130.0,642.0 131.0,641.9 132.0,641.7 133.0,641.4 134.0,641.0 135.0,640.5 136.0,640.0 137.0,639.4 138.0,638.5 139.0,637.5 140.0,636.4 141.0,635.1 142.0,633.8 143.0,632.5 144.0,630.9 145.0,629.1 146.0,627.3 147.0,625.3 148.0,623.3 149.0,621.0 150.0,618.6 151.0,616.1 152.0,613.5 153.0,610.9 154.0,608.2 155.0,605.4 156.0,602.6 157.0,599.7 158.0,596.7 159.0,593.7 160.0,590.6 161.0,587.5 162.0,584.1 163.0,580.8 164.0,577.5 165.0,574.3 166.0,571.3 167.0,568.3 168.0,565.3 169.0,562.2 170.0,559.1 171.0,555.7 172.0,552.2 173.0,548.6 174.0,545.1 175.0,541.7 176.0,538.5 177.0,535.6 178.0,532.7 179.0,529.9 180.0,527.1 181.0,524.4 182.0,521.5 183.0,518.6 184.0,515.6 185.0,512.6 186.0,509.5 187.0,506.5 188.0,503.5 189.0,500.5 190.0,497.7 191.0,494.8 192.0,492.0 193.0,489.3 194.0,486.6 195.0,484.1 196.0,481.7 197.0,479.5 198.0,477.3 199.0,475.2 200.0,473.1 201.0,471.1 202.0,469.2 203.0,467.4 204.0,465.7 205.0,464.1 206.0,462.4 207.0,460.9 208.0,459.3 209.0,457.9 210.0,456.4 211.0,455.1 212.0,453.8 213.0,452.5 214.0,451.3 215.0,450.2 216.0,449.2 216.9,448.1 217.9,447.2 218.9,446.2 219.9,445.3 220.9,444.4 221.9,443.6 222.9,442.8 223.9,442.0 224.9,441.3 225.9,440.5 226.9,439.8 227.9,439.2 228.9,438.5 229.9,437.9 230.9,437.3 231.9,436.7 232.9,436.2 233.9,435.6 234.9,435.1 235.9,434.6 236.9,434.2 237.9,433.7 238.9,433.3 239.9,432.9 240.9,432.5 241.9,432.1 242.9,431.7 243.9,431.4 244.9,431.0 245.9,430.6 246.9,430.3 247.9,429.9 248.9,429.6 249.9,429.3 250.9,429.0 251.9,428.6 252.9,428.3 253.9,428.0 254.9,427.8 255.9,427.5 256.9,427.2 257.9,426.9 258.9,426.6 259.9,426.3 260.9,426.0 261.9,425.7 262.9,425.4 263.9,425.1 264.9,424.8 265.9,424.4 266.9,424.1 267.9,423.8 268.9,423.4 269.9,423.0 270.9,422.6 271.9,422.2 272.9,421.8 273.9,421.4 274.9,421.0 275.9,420.6 276.9,420.1 277.9,419.7 278.9,419.2 279.9,418.7 280.9,418.3 281.9,417.8 282.9,417.3 283.9,416.8 284.9,416.3 285.9,415.7 286.9,415.2 287.9,414.7 288.9,414.1 289.9,413.6 290.9,413.1 291.9,412.5 292.9,411.9 293.9,411.3 294.9,410.7 295.9,410.1 296.9,409.5 297.9,408.8 298.9,408.2 299.9,407.5 300.9,406.9 301.9,406.2 302.9,405.5 303.9,404.8 304.9,404.1 305.9,403.4 306.9,402.7 307.9,402.0 308.9,401.3 309.9,400.5 310.9,399.8 311.9,399.1 312.9,398.3 313.9,397.6 314.9,396.8 315.9,396.1 316.9,395.3 317.9,394.5 318.9,393.8 319.9,393.0 320.9,392.2 321.9,391.4 322.9,390.6 323.9,389.7 324.9,388.9 325.9,388.1 326.9,387.2 327.9,386.4 328.9,385.6 329.9,384.7 330.9,383.8 331.9,383.0 332.9,382.1 333.9,381.2 334.9,380.4 335.9,379.5 336.9,378.6 337.9,377.7 338.9,376.8 339.9,375.9 340.9,374.9 341.9,374.0 342.9,373.0 343.9,372.0 344.9,371.0 345.9,369.9 346.9,368.8 347.9,367.6 348.9,366.4 349.9,365.2 350.9,363.9 351.9,362.6 352.9,361.4 353.9,360.2 354.9,359.0 355.9,357.8 356.9,356.6 357.9,355.4 358.9,354.2 359.9,353.1 360.9,351.9 361.9,350.8 362.9,349.6 363.9,348.4 364.9,347.3 365.9,346.1 366.9,344.9 367.9,343.7 368.9,342.6 369.9,341.4 370.9,340.2 371.9,338.9 372.9,337.7 373.9,336.4 374.9,335.2 375.9,333.9 376.9,332.5 377.9,331.1 378.9,329.6 379.9,328.1 380.9,326.7 381.9,325.2 382.9,323.8 383.9,322.5 384.9,321.3 385.9,320.2 386.9,319.1 387.9,318.2 388.9,317.4 389.9,316.5 390.8,315.7 391.8,314.9 392.8,314.0 393.8,313.1 394.8,312.2 395.8,311.2 396.8,310.3 397.8,309.3 398.8,308.4 399.8,307.4 400.8,306.4 401.8,305.4 402.8,304.3 403.8,303.3 404.8,302.2 405.8,301.0 406.8,299.9 407.8,298.6 408.8,297.4 409.8,296.1 410.8,294.7 411.8,293.3 412.8,291.9 413.8,290.5 414.8,289.0 415.8,287.6 416.8,286.1 417.8,284.6 418.8,283.1 419.8,281.6 420.8,280.1 421.8,278.5 422.8,276.9 423.8,275.3 424.8,273.7 425.8,272.1 426.8,270.4 427.8,268.8 428.8,267.1 429.8,265.5 430.8,263.9 431.8,262.2 432.8,260.6 433.8,259.0 434.8,257.4 435.8,255.8 436.8,254.2 437.8,252.6 438.8,251.1 439.8,249.6 440.8,248.1 441.8,246.6 442.8,245.2 443.8,243.8 444.8,242.5 445.8,241.3 446.8,240.1 447.8,239.0 448.8,238.0 449.8,236.9 450.8,235.9 451.8,234.9 452.8,233.9 453.8,232.9 454.8,231.8 455.8,230.7 456.8,229.7 457.8,228.6 458.8,227.5 459.8,226.4 460.8,225.4 461.8,224.4 462.8,223.3 463.8,222.3 464.8,221.4 465.8,220.4 466.8,219.5 467.8,218.7 468.8,217.8 469.8,216.9 470.8,216.1 471.8,215.3 472.8,214.5 473.8,213.7 474.8,212.9 475.8,212.2 476.8,211.4 477.8,210.7 478.8,210.0 479.8,209.3 480.8,208.6 481.8,207.9 482.8,207.3 483.8,206.6 484.8,206.0 485.8,205.4 486.8,204.7 487.8,204.1 488.8,203.6 489.8,203.0 490.8,202.4 491.8,201.9 492.8,201.4 493.8,200.9 494.8,200.4 495.8,200.0 496.8,199.5 497.8,199.1 498.8,198.7 499.8,198.3 500.8,197.9 501.8,197.5 502.8,197.1 503.8,196.7 504.8,196.3 505.8,195.9 506.8,195.5 507.8,195.1 508.8,194.7 509.8,194.4 510.8,194.0 511.8,193.6 512.8,193.3 513.8,192.9 514.8,192.6 515.8,192.2 516.8,191.9 517.8,191.6 518.8,191.3 519.8,191.1 520.8,190.8 521.8,190.6 522.8,190.3 523.8,190.1 524.8,189.9 525.8,189.7 526.8,189.5 527.8,189.3 528.8,189.1 529.8,188.9 530.8,188.7 531.8,188.6 532.8,188.4 533.8,188.2 534.8,188.0 535.8,187.8 536.8,187.6 537.8,187.4 538.8,187.3 539.8,187.0 540.8,186.8 541.8,186.6 542.8,186.4 543.8,186.2 544.8,185.9 545.8,185.7 546.8,185.5 547.8,185.2 548.8,185.0 549.8,184.8 550.8,184.5 551.8,184.3 552.8,184.1 553.8,183.9 554.8,183.7 555.8,183.5 556.8,183.2 557.8,183.1 558.8,182.9 559.8,182.7 560.8,182.5 561.8,182.4 562.8,182.2 563.8,182.1 564.7,182.0 565.7,181.8 566.7,181.7 567.7,181.5 568.7,181.4 569.7,181.3 570.7,181.2 571.7,181.1 572.7,180.9 573.7,180.8 574.7,180.7 575.7,180.6 576.7,180.5 577.7,180.4 578.7,180.3 579.7,180.2 580.7,180.1 581.7,180.0 582.7,179.9 583.7,179.8 584.7,179.8 585.7,179.7 586.7,179.6 587.7,179.5 588.7,179.4 589.7,179.3 590.7,179.3 591.7,179.2 592.7,179.1 593.7,179.0 594.7,179.0 595.7,178.9 596.7,178.8 597.7,178.8 598.7,178.7 599.7,178.7 600.7,178.6 601.7,178.6 602.7,178.5 603.7,178.5 604.7,178.4 605.7,178.4 606.7,178.4 607.7,178.3 608.7,178.3 609.7,178.2 610.7,178.2 611.7,178.2 612.7,178.1 613.7,178.1 614.7,178.1 615.7,178.0 616.7,178.0 617.7,178.0 618.7,177.9 619.7,177.9 620.7,177.9 621.7,177.9 622.7,177.8 623.7,177.8 624.7,177.8 625.7,177.7 626.7,177.7 627.7,177.7 628.7,177.7 629.7,177.6 630.7,177.6 631.7,177.6 632.7,177.6 633.7,177.6 634.7,177.5 635.7,177.5 636.7,177.5 637.7,177.5 638.7,177.5 639.7,177.4 640.7,177.4 641.7,177.4 642.7,177.4 643.7,177.4 644.7,177.4 645.7,177.3 646.7,177.3 647.7,177.3 648.7,177.3 649.7,177.3 650.7,177.3 651.7,177.3 652.7,177.3 653.7,177.3 654.7,177.3 655.7,177.2 656.7,177.2 657.7,177.2 658.7,177.2 659.7,177.2 660.7,177.2 661.7,177.2 662.7,177.2 663.7,177.2 664.7,177.2 665.7,177.2 666.7,177.1 667.7,177.1 668.7,177.1 669.7,177.1 670.7,177.1 671.7,177.1 672.7,177.1 673.7,177.1 674.7,177.1 675.7,177.1 676.7,177.1 677.7,177.1 678.7,177.1 679.7,177.1 680.7,177.1 681.7,177.0 682.7,177.0 683.7,177.0 684.7,177.0 685.7,177.0 686.7,177.0 687.7,177.0 688.7,177.0 689.7,177.0 690.7,177.0 691.7,177.0 692.7,177.0 693.7,177.0 694.7,177.0 695.7,177.0 696.7,177.0 697.7,177.0 698.7,177.0 699.7,177.0 700.7,177.0 701.7,177.0 702.7,177.0 703.7,177.0 704.7,177.0 705.7,177.0 706.7,177.0 707.7,177.0 708.7,177.0 709.7,177.0 710.7,177.0 711.7,177.0 712.7,177.0 713.7,177.0 714.7,177.0 715.7,177.0 716.7,177.0 717.7,177.0 718.7,177.0 719.7,177.0 720.7,177.0 721.7,177.0 722.7,177.0 723.7,177.0 724.7,177.0 725.7,177.0 726.7,177.0 727.7,177.0 728.7,177.0 729.7,177.0 730.7,177.0 731.7,177.0 732.7,177.0 733.7,177.0 734.7,177.0 735.7,177.0 736.7,177.0 737.6,177.0 738.6,177.0 739.6,177.0 740.6,177.0 741.6,177.0 742.6,177.0 743.6,177.0 744.6,177.0 745.6,177.0 746.6,177.0 747.6,177.0 748.6,177.0 749.6,177.0 750.6,177.0 751.6,177.0 752.6,177.0 753.6,177.0 754.6,177.0 755.6,177.0 756.6,177.0 757.6,177.0 758.6,177.0 759.6,177.0 760.6,177.0 761.6,177.0 762.6,177.0 763.6,177.0 764.6,177.0 765.6,177.0 766.6,177.0 767.6,177.0 768.6,177.0 769.6,177.0 770.6,177.0 771.6,177.0 772.6,177.0 773.6,177.0 774.6,177.0 775.6,177.0 776.6,177.0 777.6,177.0 778.6,177.0 779.6,177.0 780.6,177.0 781.6,177.0 782.6,177.0 783.6,177.0 784.6,177.0 785.6,177.0 786.6,177.0 787.6,177.0 788.6,177.0 789.6,177.0 790.6,177.0 791.6,177.0 792.6,177.0 793.6,177.0 794.6,177.0 795.6,177.0 796.6,177.0 797.6,177.0 798.6,177.0 799.6,177.0 800.6,177.0 801.6,177.0 802.6,177.0 803.6,177.0 804.6,177.0 805.6,177.0 806.6,177.0 807.6,177.0 808.6,177.0 809.6,177.0 810.6,177.0 811.6,177.0 812.6,177.0 813.6,177.0 814.6,177.0 815.6,177.0 816.6,177.0 817.6,177.0 818.6,177.0 819.6,177.0 820.6,177.0 821.6,177.0 822.6,177.0 823.6,177.0 824.6,177.0 825.6,177.0 826.6,177.0 827.6,177.0 828.6,177.0 829.6,177.0 830.6,177.0 831.6,177.0 832.6,177.0 833.6,177.0 834.6,177.0 835.6,177.0 836.6,177.0 837.6,177.0 838.6,177.0 839.6,177.0 840.6,177.0 841.6,177.0 842.6,177.0 843.6,177.0 844.6,177.0 845.6,177.0 846.6,177.0 847.6,177.0 848.6,177.0 849.6,177.0 850.6,177.0 851.6,177.0 852.6,177.0 853.6,177.0 854.6,177.0 855.6,177.0 856.6,177.0 857.6,177.0 858.6,177.0 859.6,177.0 860.6,177.0 861.6,177.0 862.6,177.0 863.6,177.0 864.6,177.0 865.6,177.0 866.6,177.0 867.6,177.0 868.6,177.0 869.6,177.0 870.6,177.0 871.6,177.0 872.6,177.0 873.6,177.0 874.6,177.0 875.6,177.0 876.6,177.0 877.6,177.0 878.6,177.0 879.6,177.0 880.6,177.0 881.6,177.0 882.6,177.0 883.6,177.0 884.6,177.0 885.6,177.0 886.6,177.0 887.6,177.0 888.6,177.0 889.6,177.0 890.6,177.0 891.6,177.0 892.6,177.0 893.6,177.0 894.6,177.0 895.6,177.0 896.6,177.0 897.6,177.0 898.6,177.0 899.6,177.0 900.6,177.0 901.6,177.0 902.6,177.0 903.6,177.0 904.6,177.0 905.6,177.0 906.6,177.0 907.6,177.0 908.6,177.0 909.6,177.0 910.6,177.0 911.5,177.0 912.5,177.0 913.5,177.0 914.5,177.0 915.5,177.0 916.5,177.0 917.5,177.0 918.5,177.0 919.5,177.0 920.5,177.0 921.5,177.0 922.5,177.0 923.5,177.0 924.5,177.0 925.5,177.0 926.5,177.0 927.5,177.0 928.5,177.0 929.5,177.0 930.5,177.0 931.5,177.0 932.5,177.0 933.5,177.0 934.5,177.0 935.5,177.0 936.5,177.0 937.5,177.0 938.5,177.0 939.5,177.0 940.5,177.0 941.5,177.0 942.5,177.0 943.5,177.0 944.5,177.0 945.5,177.0 946.5,177.0 947.5,177.0 948.5,177.0 949.5,177.0 950.5,177.0 951.5,177.0 952.5,177.0 953.5,177.0 954.5,177.0 955.5,177.0 956.5,177.0 957.5,177.0 958.5,177.0 959.5,177.0 960.5,177.0 961.5,177.0 962.5,177.0 963.5,177.0 964.5,177.0 965.5,177.0 966.5,177.0 967.5,177.0 968.5,177.0 969.5,177.0 970.5,177.0 971.5,177.0 972.5,177.0 973.5,177.0 974.5,177.0 975.5,177.0 976.5,177.0 977.5,177.0 978.5,177.0 979.5,177.0 980.5,177.0 981.5,177.0 982.5,177.0 983.5,177.0 984.5,177.0 985.5,177.0 986.5,177.0 987.5,177.0 988.5,177.0 989.5,177.0 990.5,177.0 991.5,177.0 992.5,177.0 993.5,177.0 994.5,177.0 995.5,177.0 996.5,177.0 997.5,177.0"/><polyline class="s" marker-start="url(#mLT)" marker-mid="url(#mLT)" marker-end="url(#mLT)" points="130.0,594.0 131.1,593.4 132.2,592.7 133.3,592.1 134.4,591.5 135.5,590.9 136.6,590.4 137.7,589.9 138.8,589.3 139.9,588.9 141.0,588.4 142.1,588.0 143.2,587.6 144.3,587.2 145.4,586.8 146.5,586.5 147.6,586.1 148.7,585.8 149.8,585.4 150.9,585.0 152.0,584.7 153.1,584.3 154.2,583.9 155.3,583.5 156.4,583.2 157.5,582.8 158.6,582.4 159.7,582.0 160.8,581.5 161.9,581.1 163.0,580.6 164.1,580.1 165.2,579.5 166.3,578.9 167.4,578.3 168.5,577.7 169.6,577.0 170.7,576.4 171.8,575.7 172.9,575.0 174.0,574.3 175.1,573.5 176.2,572.7 177.3,571.9 178.4,571.0 179.5,570.2 180.6,569.3 181.7,568.5 182.8,567.7 183.9,566.9 185.0,566.2 186.1,565.5 187.2,564.8 188.3,564.1 189.4,563.4 190.5,562.6 191.6,561.8 192.7,560.9 193.8,559.9 194.9,558.7 196.0,557.4 197.1,555.9 198.2,554.4 199.3,552.7 200.4,550.9 201.5,548.8 202.6,546.6 203.7,544.2 204.8,541.7 205.9,538.9 207.0,535.9 208.1,533.2 209.2,530.7 210.3,528.4 211.4,526.2 212.5,524.3 213.6,522.8 214.7,521.5 215.8,519.9 216.9,517.7 218.0,514.8 219.1,511.6 220.2,508.1 221.3,504.6 222.4,501.1 223.5,498.0 224.6,495.2 225.7,492.5 226.8,489.9 227.9,487.4 229.0,484.9 230.1,482.5 231.2,480.1 232.4,477.8 233.5,475.5 234.6,473.2 235.7,470.9 236.8,468.6 237.9,466.3 239.0,464.1 240.1,461.9 241.2,459.8 242.3,457.7 243.4,455.8 244.5,453.9 245.6,452.2 246.7,450.6 247.8,449.1 248.9,447.7 250.0,446.2 251.1,444.8 252.2,443.4 253.3,442.0 254.4,440.4 255.5,438.8 256.6,437.1 257.7,435.4 258.8,433.7 259.9,432.0 261.0,430.2 262.1,428.2 263.2,426.0 264.3,423.7 265.4,421.0 266.5,417.1 267.6,412.4 268.7,408.2 269.8,405.3 270.9,404.1 272.0,403.1 273.1,402.4 274.2,401.7 275.3,401.2 276.4,400.7 277.5,400.2 278.6,399.6 279.7,399.0 280.8,398.3 281.9,397.5 283.0,396.6 284.1,395.8 285.2,394.9 286.3,394.0 287.4,393.2 288.5,392.4 289.6,391.6 290.7,390.9 291.8,390.3 292.9,389.7 294.0,389.3 295.1,388.9 296.2,388.6 297.3,388.2 298.4,387.9 299.5,387.7 300.6,387.4 301.7,387.1 302.8,386.8 303.9,386.6 305.0,386.3 306.1,386.0 307.2,385.7 308.3,385.4 309.4,385.0 310.5,384.7 311.6,384.4 312.7,384.1 313.8,383.8 314.9,383.5 316.0,383.1 317.1,382.8 318.2,382.4 319.3,382.1 320.4,381.7 321.5,381.3 322.6,380.9 323.7,380.5 324.8,380.1 325.9,379.7 327.0,379.2 328.1,378.8 329.2,378.3 330.3,377.8 331.4,377.2 332.5,376.7 333.6,376.0 334.7,375.3 335.8,374.6 336.9,373.8 338.0,372.9 339.1,372.0 340.2,371.1 341.3,370.2 342.4,369.3 343.5,368.4 344.6,367.5 345.7,366.6 346.8,365.7 347.9,364.8 349.0,364.0 350.1,363.1 351.2,362.2 352.3,361.3 353.4,360.4 354.5,359.6 355.6,358.6 356.7,357.7 357.8,356.8 358.9,355.9 360.0,354.9 361.1,353.9 362.2,352.9 363.3,351.8 364.4,350.7 365.5,349.6 366.6,348.6 367.7,347.5 368.8,346.5 369.9,345.6 371.0,344.7 372.1,343.9 373.2,343.2 374.3,342.5 375.4,341.9 376.5,341.3 377.6,340.7 378.7,340.1 379.8,339.5 380.9,339.0 382.0,338.4 383.1,337.8 384.2,337.1 385.3,336.5 386.4,335.7 387.5,334.8 388.6,333.9 389.7,332.9 390.8,331.8 391.9,330.7 393.0,329.7 394.1,328.6 395.2,327.5 396.3,326.6 397.4,325.7 398.5,324.9 399.6,324.2 400.7,323.7 401.8,323.2 402.9,322.8 404.0,322.4 405.1,322.0 406.2,321.6 407.3,321.2 408.4,320.8 409.5,320.3 410.6,319.9 411.7,319.4 412.8,319.0 413.9,318.6 415.0,318.1 416.1,317.7 417.2,317.2 418.3,316.8 419.4,316.3 420.5,315.9 421.6,315.4 422.7,315.0 423.8,314.6 424.9,314.2 426.0,313.7 427.1,313.3 428.2,312.8 429.3,312.4 430.4,311.9 431.5,311.5 432.6,311.0 433.7,310.5 434.8,310.0 435.9,309.4 437.1,308.9 438.2,308.4 439.3,307.8 440.4,307.3 441.5,306.7 442.6,306.1 443.7,305.6 444.8,305.0 445.9,304.5 447.0,303.9 448.1,303.4 449.2,302.8 450.3,302.3 451.4,301.7 452.5,301.2 453.6,300.6 454.7,300.1 455.8,299.5 456.9,299.0 458.0,298.4 459.1,297.9 460.2,297.3 461.3,296.8 462.4,296.2 463.5,295.7 464.6,295.1 465.7,294.6 466.8,294.0 467.9,293.5 469.0,292.9 470.1,292.4 471.2,291.8 472.3,291.2 473.4,290.6 474.5,290.1 475.6,289.5 476.7,288.9 477.8,288.3 478.9,287.7 480.0,287.0 481.1,286.3 482.2,285.5 483.3,284.7 484.4,283.8 485.5,283.0 486.6,282.1 487.7,281.2 488.8,280.4 489.9,279.6 491.0,278.8 492.1,278.1 493.2,277.4 494.3,276.6 495.4,275.9 496.5,275.2 497.6,274.5 498.7,273.9 499.8,273.2 500.9,272.5 502.0,271.8 503.1,271.2 504.2,270.5 505.3,269.8 506.4,269.1 507.5,268.5 508.6,267.8 509.7,267.1 510.8,266.5 511.9,265.8 513.0,265.2 514.1,264.5 515.2,263.9 516.3,263.2 517.4,262.6 518.5,261.9 519.6,261.2 520.7,260.6 521.8,259.9 522.9,259.3 524.0,258.6 525.1,257.9 526.2,257.3 527.3,256.6 528.4,255.9 529.5,255.3 530.6,254.6 531.7,253.9 532.8,253.3 533.9,252.6 535.0,251.9 536.1,251.2 537.2,250.6 538.3,249.9 539.4,249.3 540.5,248.7 541.6,248.2 542.7,247.7 543.8,247.2 544.9,246.7 546.0,246.2 547.1,245.7 548.2,245.1 549.3,244.4 550.4,243.8 551.5,243.1 552.6,242.5 553.7,241.8 554.8,241.1 555.9,240.4 557.0,239.6 558.1,238.9 559.2,238.2 560.3,237.5 561.4,236.7 562.5,236.0 563.6,235.3 564.7,234.5 565.8,233.8 566.9,233.0 568.0,232.3 569.1,231.5 570.2,230.8 571.3,230.0 572.4,229.2 573.5,228.4 574.6,227.6 575.7,226.8 576.8,226.0 577.9,225.2 579.0,224.4 580.1,223.5 581.2,222.7 582.3,221.8 583.4,221.0 584.5,220.1 585.6,219.2 586.7,218.3 587.8,217.4 588.9,216.5 590.0,215.6 591.1,214.6 592.2,213.7 593.3,212.7 594.4,211.8 595.5,210.8 596.6,209.8 597.7,208.8 598.8,207.8 599.9,206.8 601.0,205.7 602.1,204.7 603.2,203.6 604.3,202.4 605.4,201.3 606.5,200.0 607.6,198.8 608.7,197.6 609.8,196.3 610.9,195.1 612.0,193.8 613.1,192.6 614.2,191.4 615.3,190.2 616.4,189.0 617.5,187.9 618.6,186.8 619.7,185.7 620.8,184.7 621.9,183.6 623.0,182.6 624.1,181.5 625.2,180.4 626.3,179.3 627.4,178.2 628.5,177.1 629.6,175.9 630.7,174.7 631.8,173.5 632.9,172.2 634.0,170.9 635.1,169.7 636.2,168.5 637.3,167.2 638.4,165.9 639.5,164.7 640.7,163.4 641.8,162.2 642.9,160.9 644.0,159.7 645.1,158.6 646.2,157.4 647.3,156.4 648.4,155.3 649.5,154.2 650.6,153.2 651.7,152.2 652.8,151.2 653.9,150.2 655.0,149.3 656.1,148.3 657.2,147.4 658.3,146.5 659.4,145.6 660.5,144.7 661.6,143.8 662.7,142.9 663.8,142.0 664.9,141.1 666.0,140.3 667.1,139.5 668.2,138.8 669.3,138.1 670.4,137.5 671.5,136.9 672.6,136.4 673.7,136.0 674.8,135.5 675.9,135.1 677.0,134.7 678.1,134.3 679.2,133.9 680.3,133.5 681.4,133.1 682.5,132.6 683.6,132.2 684.7,131.8 685.8,131.3 686.9,130.9 688.0,130.5 689.1,130.0 690.2,129.6 691.3,129.1 692.4,128.7 693.5,128.3 694.6,127.9 695.7,127.5 696.8,127.1 697.9,126.6 699.0,126.1 700.1,125.5 701.2,124.6 702.3,123.4 703.4,122.0 704.5,120.6 705.6,119.2 706.7,118.0 707.8,117.0 708.9,116.2 710.0,115.4 711.1,114.7 712.2,114.0 713.3,113.5 714.4,113.1 715.5,112.9 716.6,112.9 717.7,113.0 718.8,113.1 719.9,113.3 721.0,113.5 722.1,113.7 723.2,114.0 724.3,114.2 725.4,114.5 726.5,114.9 727.6,115.3 728.7,115.8 729.8,116.4 730.9,117.1 732.0,118.0 733.1,119.7 734.2,121.9 735.3,124.3 736.4,127.2 737.5,129.4 738.6,131.1 739.7,132.6 740.8,133.9 741.9,135.0"/>
<polyline class="s" marker-start="url(#mLT)" marker-mid="url(#mLT)" marker-end="url(#mLT)" points="743.4,109.0 744.5,108.1 745.6,107.2 746.7,106.3 747.8,105.5 748.9,104.7 750.0,104.0 751.1,103.2 752.2,102.5 753.2,101.7 754.3,101.0 755.4,100.2 756.5,99.4 757.6,98.6 758.7,97.8 759.8,97.0 760.9,96.3 762.0,95.5 763.1,94.8 764.2,94.1 765.3,93.5 766.4,92.9 767.5,92.3 768.6,91.7 769.7,91.1 770.7,90.3 771.8,89.3 772.9,88.1 774.0,86.7 775.1,85.2 776.2,83.7 777.3,82.4 778.4,81.3 779.5,80.2 780.6,79.2 781.7,78.1 782.8,77.2 783.9,76.4 785.0,75.8 786.1,75.4 787.2,75.1 788.2,74.8 789.3,74.5 790.4,74.3 791.5,74.1 792.6,74.0 793.7,74.0 794.8,74.0 795.9,74.1 797.0,74.1 798.1,74.3 799.2,74.4 800.3,74.5 801.4,74.7 802.5,74.9 803.6,75.2 804.7,75.6 805.7,76.1 806.8,76.6 807.9,77.2 809.0,77.7 810.1,78.2 811.2,78.7 812.3,79.2 813.4,79.8 814.5,80.3 815.6,80.9 816.7,81.4 817.8,82.0 818.9,82.5 820.0,83.0 821.1,83.6 822.2,84.1 823.2,84.7 824.3,85.3 825.4,85.9 826.5,86.5 827.6,87.2 828.7,88.0 829.8,88.8 830.9,89.8 832.0,91.0"/><polyline class="s" marker-start="url(#mDT)" marker-mid="url(#mDT)" marker-end="url(#mDT)" points="130.0,643.5 131.0,643.5 132.0,643.3 133.0,643.1 134.0,642.9 135.0,642.6 136.0,642.3 137.0,641.9 138.0,641.5 139.0,641.0 140.0,640.2 141.0,639.4 142.0,638.4 143.0,637.5 144.0,636.6 145.0,635.7 146.0,634.7 147.0,633.7 148.0,632.6 149.0,631.5 150.0,630.2 151.0,628.9 152.0,627.4 153.0,625.9 154.0,624.2 155.0,622.5 156.0,620.7 157.0,618.8 158.0,616.7 159.0,614.5 160.0,612.3 161.0,609.9 162.0,607.4 163.0,604.9 164.0,602.1 165.0,599.2 166.0,596.2 167.0,593.3 168.0,590.4 169.0,587.5 170.0,584.6 171.0,581.7 172.0,578.9 173.0,576.0 174.0,573.3 175.0,570.6 176.0,568.0 177.0,565.4 178.0,562.8 179.0,560.1 180.0,557.2 181.0,554.2 182.0,551.1 183.0,548.0 184.0,544.9 185.0,541.7 186.0,538.5 187.0,535.1 188.0,531.6 189.0,528.1 190.0,524.8 191.0,521.7 192.0,519.1 193.0,516.6 194.0,514.3 195.0,512.0 196.0,509.9 197.0,507.9 198.0,505.9 199.0,504.0 200.0,502.1 201.0,500.2 202.0,498.3 203.0,496.4 204.0,494.4 205.0,492.4 206.0,490.3 207.0,488.3 208.0,486.2 209.0,484.2 210.0,482.2 211.0,480.3 212.0,478.3 213.0,476.5 214.0,474.7 215.0,472.9 216.0,471.2 216.9,469.5 217.9,467.9 218.9,466.3 219.9,464.7 220.9,463.2 221.9,461.7 222.9,460.2 223.9,458.7 224.9,457.3 225.9,455.9 226.9,454.5 227.9,453.2 228.9,451.9 229.9,450.6 230.9,449.3 231.9,448.1 232.9,446.8 233.9,445.6 234.9,444.4 235.9,443.3 236.9,442.1 237.9,440.9 238.9,439.8 239.9,438.6 240.9,437.5 241.9,436.4 242.9,435.3 243.9,434.4 244.9,433.5 245.9,432.7 246.9,431.9 247.9,431.2 248.9,430.6 249.9,429.9 250.9,429.3 251.9,428.8 252.9,428.2 253.9,427.7 254.9,427.2 255.9,426.7 256.9,426.2 257.9,425.8 258.9,425.4 259.9,424.9 260.9,424.6 261.9,424.2 262.9,423.8 263.9,423.4 264.9,423.1 265.9,422.7 266.9,422.3 267.9,421.9 268.9,421.5 269.9,421.1 270.9,420.7 271.9,420.3 272.9,419.9 273.9,419.5 274.9,419.1 275.9,418.7 276.9,418.3 277.9,417.9 278.9,417.5 279.9,417.1 280.9,416.6 281.9,416.1 282.9,415.7 283.9,415.1 284.9,414.6 285.9,414.1 286.9,413.6 287.9,413.1 288.9,412.6 289.9,412.1 290.9,411.6 291.9,411.2 292.9,410.8 293.9,410.4 294.9,410.0 295.9,409.6 296.9,409.2 297.9,408.8 298.9,408.4 299.9,408.1 300.9,407.7 301.9,407.3 302.9,406.9 303.9,406.5 304.9,406.2 305.9,405.8 306.9,405.4 307.9,405.0 308.9,404.7 309.9,404.2 310.9,403.8 311.9,403.3 312.9,402.8 313.9,402.2 314.9,401.6 315.9,400.9 316.9,400.2 317.9,399.5 318.9,398.7 319.9,397.9 320.9,397.2 321.9,396.4 322.9,395.6 323.9,394.8 324.9,393.9 325.9,393.1 326.9,392.2 327.9,391.3 328.9,390.4 329.9,389.4 330.9,388.5 331.9,387.5 332.9,386.6 333.9,385.7 334.9,384.7 335.9,383.7 336.9,382.7 337.9,381.8 338.9,380.8 339.9,379.7 340.9,378.7 341.9,377.7 342.9,376.7 343.9,375.6 344.9,374.5 345.9,373.5 346.9,372.3 347.9,371.2 348.9,370.1 349.9,369.0 350.9,367.8 351.9,366.7 352.9,365.6 353.9,364.5 354.9,363.5 355.9,362.5 356.9,361.5 357.9,360.5 358.9,359.5 359.9,358.5 360.9,357.5 361.9,356.5 362.9,355.5 363.9,354.5 364.9,353.5 365.9,352.5 366.9,351.5 367.9,350.5 368.9,349.5 369.9,348.5 370.9,347.4 371.9,346.4 372.9,345.5 373.9,344.5 374.9,343.6 375.9,342.7 376.9,341.9 377.9,341.0 378.9,340.2 379.9,339.4 380.9,338.7 381.9,337.9 382.9,337.1 383.9,336.3 384.9,335.5 385.9,334.7 386.9,333.8 387.9,332.9 388.9,332.0 389.9,331.0 390.8,330.1 391.8,329.2 392.8,328.2 393.8,327.4 394.8,326.5 395.8,325.7 396.8,324.9 397.8,324.1 398.8,323.4 399.8,322.8 400.8,322.1 401.8,321.4 402.8,320.8 403.8,320.1 404.8,319.4 405.8,318.7 406.8,318.0 407.8,317.2 408.8,316.4 409.8,315.6 410.8,314.8 411.8,313.9 412.8,313.1 413.8,312.2 414.8,311.3 415.8,310.4 416.8,309.5 417.8,308.6 418.8,307.6 419.8,306.6 420.8,305.6 421.8,304.5 422.8,303.5 423.8,302.4 424.8,301.3 425.8,300.3 426.8,299.2 427.8,298.2 428.8,297.1 429.8,296.2 430.8,295.2 431.8,294.3 432.8,293.4 433.8,292.6 434.8,291.7 435.8,290.9 436.8,290.1 437.8,289.2 438.8,288.4 439.8,287.6 440.8,286.7 441.8,285.9 442.8,285.0 443.8,284.0 444.8,283.1 445.8,282.1 446.8,281.1 447.8,280.0 448.8,279.0 449.8,277.9 450.8,276.9 451.8,275.7 452.8,274.6 453.8,273.4 454.8,272.2 455.8,270.9 456.8,269.5 457.8,268.1 458.8,266.6 459.8,264.9 460.8,263.0 461.8,260.8 462.8,258.6 463.8,256.4 464.8,254.4 465.8,252.7 466.8,251.1 467.8,249.7 468.8,248.3 469.8,246.9 470.8,245.6 471.8,244.2 472.8,242.8 473.8,241.4 474.8,240.0 475.8,238.6 476.8,237.2 477.8,235.8 478.8,234.5 479.8,233.1 480.8,231.7 481.8,230.4 482.8,229.1 483.8,227.7 484.8,226.4 485.8,225.1 486.8,223.8 487.8,222.4 488.8,221.1 489.8,219.7 490.8,218.3 491.8,217.0 492.8,215.6 493.8,214.3 494.8,212.9 495.8,211.7 496.8,210.4 497.8,209.2 498.8,208.1 499.8,207.0 500.8,206.0 501.8,205.0 502.8,204.0 503.8,203.0 504.8,202.0 505.8,201.0 506.8,200.0 507.8,199.0 508.8,198.0 509.8,197.0 510.8,196.1 511.8,195.2 512.8,194.3 513.8,193.5 514.8,192.8 515.8,192.2 516.8,191.6 517.8,191.0 518.8,190.5 519.8,190.0 520.8,189.5 521.8,189.0 522.8,188.5 523.8,188.0 524.8,187.6 525.8,187.1 526.8,186.6 527.8,186.1 528.8,185.5 529.8,185.0 530.8,184.5 531.8,184.0 532.8,183.5 533.8,183.0 534.8,182.6 535.8,182.1 536.8,181.6 537.8,181.2 538.8,180.7 539.8,180.2 540.8,179.8 541.8,179.4 542.8,178.9 543.8,178.5 544.8,178.1 545.8,177.7 546.8,177.3 547.8,176.9 548.8,176.5 549.8,176.1 550.8,175.6 551.8,175.2 552.8,174.9 553.8,174.5 554.8,174.1 555.8,173.7 556.8,173.3 557.8,173.0 558.8,172.7 559.8,172.4 560.8,172.1 561.8,171.8 562.8,171.5 563.8,171.3 564.7,171.0 565.7,170.8 566.7,170.5 567.7,170.3 568.7,170.1 569.7,169.9 570.7,169.6 571.7,169.4 572.7,169.2 573.7,169.0 574.7,168.8 575.7,168.6 576.7,168.5 577.7,168.3 578.7,168.1 579.7,167.9 580.7,167.7 581.7,167.6 582.7,167.4 583.7,167.2 584.7,167.1 585.7,166.9 586.7,166.7 587.7,166.6 588.7,166.4 589.7,166.3 590.7,166.1 591.7,166.0 592.7,165.8 593.7,165.7 594.7,165.5 595.7,165.4 596.7,165.3 597.7,165.1 598.7,165.0 599.7,164.9 600.7,164.8 601.7,164.7 602.7,164.5 603.7,164.4 604.7,164.3 605.7,164.2 606.7,164.1 607.7,164.0 608.7,163.9 609.7,163.8 610.7,163.7 611.7,163.6 612.7,163.6 613.7,163.5 614.7,163.4 615.7,163.3 616.7,163.2 617.7,163.1 618.7,163.0 619.7,162.9 620.7,162.8 621.7,162.7 622.7,162.7 623.7,162.6 624.7,162.5 625.7,162.4 626.7,162.3 627.7,162.3 628.7,162.2 629.7,162.1 630.7,162.1 631.7,162.0 632.7,161.9 633.7,161.8 634.7,161.8 635.7,161.7 636.7,161.7 637.7,161.6 638.7,161.5 639.7,161.5 640.7,161.4 641.7,161.4 642.7,161.3 643.7,161.3 644.7,161.2 645.7,161.2 646.7,161.1 647.7,161.1 648.7,161.0 649.7,161.0 650.7,161.0 651.7,160.9 652.7,160.9 653.7,160.8 654.7,160.8 655.7,160.7 656.7,160.7 657.7,160.7 658.7,160.6 659.7,160.6 660.7,160.5 661.7,160.5 662.7,160.5 663.7,160.4 664.7,160.4 665.7,160.3 666.7,160.3 667.7,160.3 668.7,160.2 669.7,160.2 670.7,160.2 671.7,160.1 672.7,160.1 673.7,160.1 674.7,160.0 675.7,160.0 676.7,160.0 677.7,159.9 678.7,159.9 679.7,159.9 680.7,159.8 681.7,159.8 682.7,159.8 683.7,159.8 684.7,159.7 685.7,159.7 686.7,159.7 687.7,159.7 688.7,159.7 689.7,159.6 690.7,159.6 691.7,159.6 692.7,159.6 693.7,159.6 694.7,159.6 695.7,159.5 696.7,159.5 697.7,159.5 698.7,159.5 699.7,159.5 700.7,159.5 701.7,159.5 702.7,159.5 703.7,159.5 704.7,159.5 705.7,159.5 706.7,159.5 707.7,159.4 708.7,159.4 709.7,159.4 710.7,159.4 711.7,159.4 712.7,159.4 713.7,159.4 714.7,159.4 715.7,159.4 716.7,159.4 717.7,159.4 718.7,159.4 719.7,159.4 720.7,159.4 721.7,159.4 722.7,159.4 723.7,159.3 724.7,159.3 725.7,159.3 726.7,159.3 727.7,159.3 728.7,159.3 729.7,159.3 730.7,159.3 731.7,159.3 732.7,159.3 733.7,159.3 734.7,159.3 735.7,159.3 736.7,159.3 737.6,159.3 738.6,159.3 739.6,159.3 740.6,159.2 741.6,159.2 742.6,159.2 743.6,159.2 744.6,159.2 745.6,159.2 746.6,159.2 747.6,159.2 748.6,159.2 749.6,159.2 750.6,159.2 751.6,159.2 752.6,159.2 753.6,159.2 754.6,159.2 755.6,159.2 756.6,159.2 757.6,159.2 758.6,159.2 759.6,159.1 760.6,159.1 761.6,159.1 762.6,159.1 763.6,159.1 764.6,159.1 765.6,159.1 766.6,159.1 767.6,159.1 768.6,159.1 769.6,159.1 770.6,159.1 771.6,159.1 772.6,159.1 773.6,159.1 774.6,159.1 775.6,159.1 776.6,159.1 777.6,159.1 778.6,159.1 779.6,159.1 780.6,159.0 781.6,159.0 782.6,159.0 783.6,159.0 784.6,159.0 785.6,159.0 786.6,159.0 787.6,159.0 788.6,159.0 789.6,159.0 790.6,159.0 791.6,159.0 792.6,159.0 793.6,159.0 794.6,159.0 795.6,159.0 796.6,159.0 797.6,159.0 798.6,159.0 799.6,159.0 800.6,159.0 801.6,159.0 802.6,159.0 803.6,158.9 804.6,158.9 805.6,158.9 806.6,158.9 807.6,158.9 808.6,158.9 809.6,158.9 810.6,158.9 811.6,158.9 812.6,158.9 813.6,158.9 814.6,158.9 815.6,158.9 816.6,158.9 817.6,158.9 818.6,158.9 819.6,158.9 820.6,158.9 821.6,158.9 822.6,158.9 823.6,158.9 824.6,158.9 825.6,158.9 826.6,158.9 827.6,158.9 828.6,158.9 829.6,158.9 830.6,158.9 831.6,158.8 832.6,158.8 833.6,158.8 834.6,158.8 835.6,158.8 836.6,158.8 837.6,158.8 838.6,158.8 839.6,158.8 840.6,158.8 841.6,158.8 842.6,158.8 843.6,158.8 844.6,158.8 845.6,158.8 846.6,158.8 847.6,158.8 848.6,158.8 849.6,158.8 850.6,158.8 851.6,158.8 852.6,158.8 853.6,158.8 854.6,158.8 855.6,158.8 856.6,158.8 857.6,158.8 858.6,158.8 859.6,158.8 860.6,158.8 861.6,158.8 862.6,158.8 863.6,158.8 864.6,158.8 865.6,158.8 866.6,158.8 867.6,158.7 868.6,158.7 869.6,158.7 870.6,158.7 871.6,158.7 872.6,158.7 873.6,158.7 874.6,158.7 875.6,158.7 876.6,158.7 877.6,158.7 878.6,158.7 879.6,158.7 880.6,158.7 881.6,158.7 882.6,158.7 883.6,158.7 884.6,158.7 885.6,158.7 886.6,158.7 887.6,158.7 888.6,158.7 889.6,158.7 890.6,158.7 891.6,158.7 892.6,158.7 893.6,158.7 894.6,158.7 895.6,158.7 896.6,158.7 897.6,158.7 898.6,158.7 899.6,158.7 900.6,158.7 901.6,158.7 902.6,158.7 903.6,158.7 904.6,158.7 905.6,158.7 906.6,158.7 907.6,158.7 908.6,158.7 909.6,158.7 910.6,158.7 911.5,158.7 912.5,158.7 913.5,158.7 914.5,158.7 915.5,158.7 916.5,158.7 917.5,158.7 918.5,158.7 919.5,158.7 920.5,158.6 921.5,158.6 922.5,158.6 923.5,158.6 924.5,158.6 925.5,158.6 926.5,158.6 927.5,158.6 928.5,158.6 929.5,158.6 930.5,158.6 931.5,158.6 932.5,158.6 933.5,158.6 934.5,158.6 935.5,158.6 936.5,158.6 937.5,158.6 938.5,158.6 939.5,158.6 940.5,158.6 941.5,158.6 942.5,158.6 943.5,158.6 944.5,158.6 945.5,158.6 946.5,158.6 947.5,158.6 948.5,158.6 949.5,158.6 950.5,158.6 951.5,158.6 952.5,158.6 953.5,158.6 954.5,158.6 955.5,158.6 956.5,158.6 957.5,158.6 958.5,158.6 959.5,158.6 960.5,158.6 961.5,158.6 962.5,158.6 963.5,158.6 964.5,158.6 965.5,158.6 966.5,158.6 967.5,158.6 968.5,158.6 969.5,158.6 970.5,158.6 971.5,158.6 972.5,158.6 973.5,158.6 974.5,158.6 975.5,158.6 976.5,158.6 977.5,158.6 978.5,158.6 979.5,158.6 980.5,158.6 981.5,158.6 982.5,158.6 983.5,158.6 984.5,158.6 985.5,158.6 986.5,158.6 987.5,158.6 988.5,158.6 989.5,158.6 990.5,158.6 991.5,158.6 992.5,158.6 993.5,158.6 994.5,158.6 995.5,158.6 996.5,158.6 997.5,158.6"/><polyline class="s" marker-start="url(#mRC)" marker-mid="url(#mRC)" marker-end="url(#mRC)" points="130.0,619.0 131.3,617.9 132.6,616.9 133.9,615.8 135.2,614.8 136.5,613.8 137.8,612.9 139.1,612.0 140.4,611.1 141.7,610.2 143.0,609.4 144.3,608.5 145.6,607.7 146.9,606.9 148.2,606.0 149.5,605.2 150.8,604.3 152.1,603.5 153.4,602.6 154.7,601.8 156.0,600.9 157.3,599.9 158.6,598.8 159.9,597.6 161.2,596.4 162.5,595.0 163.8,593.7 165.1,592.2 166.4,590.8 167.7,589.4 169.0,588.0 170.3,586.7 171.6,585.4 172.9,584.0 174.2,582.7 175.5,581.3 176.8,580.0 178.1,578.7 179.4,577.4 180.7,576.3 182.0,575.2 183.3,574.2 184.6,573.4 185.9,572.6 187.2,571.9 188.5,571.2 189.8,570.5 191.1,569.7 192.4,568.9 193.7,568.1 195.0,567.3 196.3,566.5 197.6,565.7 198.9,564.8 200.2,563.9 201.5,563.0 202.8,562.0 204.1,560.9 205.4,559.8 206.7,558.6 208.0,557.2 209.3,555.8 210.6,554.3 211.9,552.8 213.2,551.2 214.5,549.6 215.8,548.0 217.1,546.4 218.4,544.8 219.7,543.2 221.0,541.6 222.3,540.1 223.6,538.6 224.9,537.1 226.2,535.8 227.5,534.4 228.8,533.1 230.1,531.8 231.4,530.5 232.7,529.2 234.0,527.9 235.3,526.6 236.6,525.3 237.9,524.1 239.2,522.8 240.5,521.5 241.8,520.2 243.1,519.0 244.4,517.8 245.7,516.6 247.0,515.4 248.3,514.2 249.6,512.7 250.9,511.1 252.2,509.2 253.5,507.0 254.8,504.6 256.1,502.0 257.4,499.2 258.7,496.3 260.0,493.4 261.3,490.5 262.6,487.6 263.9,484.8 265.2,482.1 266.5,479.6 267.8,477.3 269.1,475.1 270.4,473.0 271.7,471.0 273.0,469.0 274.3,467.0 275.6,465.1 276.9,463.2 278.1,461.3 279.4,459.4 280.7,457.5 282.0,455.6 283.3,453.7 284.6,451.9 285.9,450.0 287.2,448.2 288.5,446.4 289.8,444.7 291.1,443.0 292.4,441.4 293.7,439.8 295.0,438.3 296.3,436.8 297.6,435.3 298.9,433.8 300.2,432.4 301.5,430.9 302.8,429.5 304.1,428.1 305.4,426.8 306.7,425.4 308.0,424.1 309.3,422.8 310.6,421.5 311.9,420.2 313.2,418.9 314.5,417.6 315.8,416.3 317.1,415.0 318.4,413.8 319.7,412.5 321.0,411.3 322.3,410.1 323.6,408.9 324.9,407.7 326.2,406.6 327.5,405.5 328.8,404.4 330.1,403.3 331.4,402.3 332.7,401.3 334.0,400.4 335.3,399.5 336.6,398.7 337.9,397.9 339.2,397.1 340.5,396.3 341.8,395.6 343.1,394.8 344.4,394.1 345.7,393.4 347.0,392.6 348.3,391.9 349.6,391.2 350.9,390.4 352.2,389.6 353.5,388.8 354.8,388.0 356.1,387.1 357.4,386.3 358.7,385.4 360.0,384.4 361.3,383.5 362.6,382.6 363.9,381.7 365.2,380.7 366.5,379.8 367.8,378.8 369.1,377.9 370.4,377.0 371.7,376.1 373.0,375.2 374.3,374.3 375.6,373.5 376.9,372.7 378.2,371.8 379.5,371.0 380.8,370.2 382.1,369.4 383.4,368.6 384.7,367.8 386.0,367.0 387.3,366.2 388.6,365.5 389.9,364.7 391.2,363.9 392.5,363.2 393.8,362.4 395.1,361.7 396.4,360.9 397.7,360.2 399.0,359.5 400.3,358.7 401.6,358.0 402.9,357.3 404.2,356.6 405.5,355.8 406.8,355.1 408.1,354.4 409.4,353.7 410.7,353.0 412.0,352.3 413.3,351.6 414.6,351.0 415.9,350.3 417.2,349.6 418.5,348.9 419.8,348.3 421.1,347.7 422.4,347.0 423.7,346.4 425.0,345.8 426.3,345.2 427.6,344.5 428.9,343.8 430.2,343.1 431.5,342.3 432.8,341.5 434.1,340.7 435.4,339.9 436.7,339.0 438.0,338.1 439.3,337.2 440.6,336.3 441.9,335.4 443.2,334.4 444.5,333.5 445.8,332.6 447.1,331.7 448.4,330.8 449.7,329.9 451.0,329.0 452.3,328.2 453.6,327.4 454.9,326.6 456.2,325.7 457.5,324.9 458.8,324.2 460.1,323.4 461.4,322.6 462.7,321.9 464.0,321.2 465.3,320.5 466.6,319.8 467.9,319.1 469.2,318.5 470.5,317.8 471.8,317.2 473.1,316.6 474.4,315.9 475.7,315.3 477.0,314.7 478.3,314.1 479.6,313.4 480.9,312.8 482.2,312.1 483.5,311.4 484.8,310.7 486.1,310.0 487.4,309.2 488.7,308.5 490.0,307.7 491.3,306.9 492.6,306.2 493.9,305.4 495.2,304.6 496.5,303.8 497.8,303.0 499.1,302.2 500.4,301.4 501.7,300.6 503.0,299.8 504.3,299.0 505.6,298.2 506.9,297.5 508.2,296.7 509.5,296.0 510.8,295.2 512.1,294.5 513.4,293.7 514.7,292.9 516.0,292.0 517.3,291.1 518.6,290.1 519.9,289.1 521.2,288.1 522.5,287.0 523.8,285.9 525.1,284.8 526.4,283.6 527.7,282.5 529.0,281.3 530.3,280.1 531.6,278.8 532.9,277.5 534.2,276.1 535.5,274.7 536.8,273.2 538.1,271.7 539.4,270.0 540.7,268.3 542.0,266.5 543.3,264.6 544.6,262.7 545.9,260.7 547.2,258.8 548.5,256.7 549.8,254.6 551.1,252.5 552.4,250.4 553.7,248.4 555.0,246.3 556.3,244.2 557.6,242.2 558.9,240.1 560.2,238.0 561.5,235.9 562.8,233.9 564.1,231.9 565.4,229.8 566.7,227.8 568.0,225.8 569.3,223.9 570.6,222.1 571.9,220.3 573.1,218.6 574.4,216.9 575.7,215.3 577.0,213.9 578.3,212.4 579.6,211.2 580.9,210.4 582.2,209.8 583.5,209.3 584.8,209.1 586.1,209.0 587.4,208.9 588.7,208.9 590.0,208.8 591.3,208.8 592.6,208.7 593.9,208.5 595.2,208.1 596.5,207.5 597.8,206.8 599.1,206.0 600.4,205.2 601.7,204.5 603.0,203.6 604.3,202.7 605.6,201.7 606.9,200.6 608.2,199.4 609.5,198.0 610.8,196.6 612.1,195.0 613.4,193.4 614.7,191.6 616.0,189.6 617.3,187.5 618.6,185.4 619.9,183.4 621.2,181.3 622.5,179.1 623.8,177.0 625.1,174.9 626.4,172.8 627.7,170.7 629.0,168.5 630.3,166.1 631.6,163.4 632.9,160.2 634.2,156.9 635.5,153.7 636.8,150.9 638.1,148.6 639.4,146.4 640.7,144.4 642.0,142.4 643.3,140.3 644.6,138.2 645.9,136.0 647.2,133.9 648.5,131.7 649.8,129.4 651.1,127.1 652.4,124.6 653.7,122.2 655.0,119.8 656.3,117.6 657.6,115.5 658.9,113.5 660.2,111.6 661.5,109.7 662.8,107.9 664.1,106.1 665.4,104.5 666.7,102.9 668.0,101.4 669.3,100.0 670.6,98.6 671.9,97.3 673.2,96.0 674.5,94.7 675.8,93.5 677.1,92.3 678.4,91.2 679.7,90.1 681.0,89.0 682.3,87.8 683.6,86.5 684.9,85.2 686.2,84.1 687.5,83.2 688.8,82.7 690.1,82.6 691.4,82.9 692.7,83.3 694.0,83.6 695.3,83.4 696.6,81.4 697.9,79.5 699.2,78.3 700.5,77.3 701.8,76.3 703.1,75.7 704.4,75.3 705.7,75.0 707.0,74.8 708.3,74.6 709.6,74.6 710.9,74.9 712.2,75.6 713.5,76.5 714.8,77.5 716.1,78.6 717.4,80.1 718.7,81.8 720.0,83.7"/>
<polyline class="s" marker-start="url(#mRC)" marker-mid="url(#mRC)" marker-end="url(#mRC)" points="721.0,75.3 722.3,75.2 723.6,75.0 724.9,74.8 726.2,74.5 727.5,74.3 728.8,74.0 730.1,73.6 731.4,73.3 732.7,72.8 734.0,72.3 735.3,71.8 736.6,71.3 737.9,70.7 739.2,70.1 740.5,69.5 741.8,68.9 743.1,68.3 744.4,67.8 745.7,67.3 747.0,66.8 748.3,66.2 749.6,65.7 750.9,65.2 752.2,64.7 753.5,64.2 754.8,63.6 756.1,63.1 757.4,62.6 758.7,62.0 760.0,61.5 761.3,61.0 762.6,60.5 763.9,60.0 765.2,59.5 766.5,59.1 767.9,58.6 769.2,58.2 770.5,57.8 771.8,57.4 773.1,57.1 774.4,56.9 775.7,56.7 777.0,56.5 778.3,56.5 779.6,56.9 780.9,57.4 782.2,58.3 783.5,59.7 784.8,61.4 786.1,63.3 787.4,66.0 788.7,69.1 790.0,72.2 791.3,75.2 792.6,78.2 793.9,81.5 795.2,85.0 796.5,88.8 797.8,92.6 799.1,96.5 800.4,100.3 801.7,103.9 803.0,107.3 804.3,110.7 805.6,114.0 806.9,117.2 808.2,120.3 809.5,123.3 810.8,126.2 812.1,128.9 813.4,131.1 814.7,133.3 816.0,135.7 817.3,138.5 818.6,141.4 819.9,144.1 821.2,146.5 822.5,148.8 823.8,151.0 825.1,153.1 826.4,155.1 827.7,157.2 829.0,159.2 830.3,161.3 831.6,163.4 832.9,165.6 834.2,167.9 835.5,170.1 836.8,172.4 838.1,174.6 839.4,176.8 840.7,179.0 842.0,181.1 843.3,183.1 844.6,185.0 845.9,187.0 847.2,188.8 848.5,190.6 849.8,192.4 851.1,194.2 852.4,195.9 853.7,197.7 855.0,199.4 856.3,201.1 857.6,202.8 858.9,204.6 860.3,206.3 861.6,208.0 862.9,209.7 864.2,211.4 865.5,213.0 866.8,214.7 868.1,216.3 869.4,218.0 870.7,219.7 872.0,221.3 873.3,223.0 874.6,224.7 875.9,226.3 877.2,228.1 878.5,229.8 879.8,231.5 881.1,233.3 882.4,235.1 883.7,236.9 885.0,238.7 886.3,240.6 887.6,242.4 888.9,244.3 890.2,246.1 891.5,248.0 892.8,249.8 894.1,251.7 895.4,253.5 896.7,255.4 898.0,257.2 899.3,259.0 900.6,260.8 901.9,262.6 903.2,264.4 904.5,266.2 905.8,268.0 907.1,269.8 908.4,271.6 909.7,273.4 911.0,275.2 912.3,277.0 913.6,278.8 914.9,280.7 916.2,282.6 917.5,284.5 918.8,286.4 920.1,288.4 921.4,290.4 922.7,292.5 924.0,294.5 925.3,296.6 926.6,298.7 927.9,300.8 929.2,303.0 930.5,305.1 931.8,307.2 933.1,309.3 934.4,311.4 935.7,313.5 937.0,315.6 938.3,317.6 939.6,319.6 940.9,321.6 942.2,323.7 943.5,325.7 944.8,327.7 946.1,329.7 947.4,331.7 948.7,333.6 950.0,335.6 951.3,337.5 952.7,339.5 954.0,341.4 955.3,343.3 956.6,345.1 957.9,346.9 959.2,348.7 960.5,350.5 961.8,352.2 963.1,353.9 964.4,355.6 965.7,357.3 967.0,359.0 968.3,360.6 969.6,362.3 970.9,363.9 972.2,365.6 973.5,367.2 974.8,368.9 976.1,370.6 977.4,372.3 978.7,374.0 980.0,375.7 981.3,377.5 982.6,379.2 983.9,380.9 985.2,382.7 986.5,384.4 987.8,386.2 989.1,387.9 990.4,389.7 991.7,391.5 993.0,393.2 994.3,395.0 995.6,396.8 996.9,398.5 998.2,400.3"/><polyline class="s" marker-start="url(#mRF)" marker-mid="url(#mRF)" marker-end="url(#mRF)" points="130.0,642.5 131.0,642.5 132.0,642.4 133.0,642.2 134.0,642.0 135.0,641.8 136.0,641.6 137.0,641.3 138.0,641.0 139.0,640.6 140.0,640.1 141.0,639.5 142.0,638.8 143.0,638.0 144.0,637.3 145.0,636.6 146.0,635.9 147.0,635.2 148.0,634.5 149.0,633.8 150.0,632.9 151.0,632.0 152.0,631.0 153.0,629.7 154.0,628.3 155.0,626.8 156.0,625.1 157.0,623.4 158.0,621.7 159.0,619.8 160.0,617.7 161.0,615.6 162.0,613.3 163.0,611.0 164.0,608.6 165.0,606.2 166.0,603.7 167.0,601.1 168.0,598.4 169.0,595.7 170.0,593.0 171.0,590.4 172.0,587.8 173.0,585.1 174.0,582.5 175.0,579.9 176.0,577.4 177.0,574.8 178.0,572.3 179.0,569.8 180.0,567.4 181.0,564.9 182.0,562.4 183.0,559.8 184.0,557.0 185.0,554.1 186.0,551.1 187.0,548.1 188.0,545.0 189.0,542.0 190.0,539.1 191.0,536.4 192.0,533.8 193.0,531.4 194.0,529.1 195.0,526.8 196.0,524.6 197.0,522.4 198.0,520.1 199.0,517.7 200.0,515.4 201.0,513.0 202.0,510.6 203.0,508.2 204.0,505.9 205.0,503.6 206.0,501.3 207.0,499.0 208.0,496.7 209.0,494.4 210.0,492.2 211.0,489.9 212.0,487.8 213.0,485.7 214.0,483.6 215.0,481.6 216.0,479.7 216.9,477.8 217.9,475.9 218.9,474.1 219.9,472.3 220.9,470.5 221.9,468.8 222.9,467.1 223.9,465.4 224.9,463.8 225.9,462.2 226.9,460.6 227.9,459.0 228.9,457.4 229.9,455.9 230.9,454.4 231.9,452.9 232.9,451.5 233.9,450.0 234.9,448.6 235.9,447.2 236.9,445.8 237.9,444.4 238.9,443.0 239.9,441.6 240.9,440.3 241.9,438.9 242.9,437.7 243.9,436.4 244.9,435.2 245.9,434.1 246.9,433.0 247.9,432.0 248.9,431.0 249.9,430.1 250.9,429.1 251.9,428.2 252.9,427.4 253.9,426.5 254.9,425.7 255.9,424.9 256.9,424.1 257.9,423.3 258.9,422.6 259.9,421.9 260.9,421.2 261.9,420.6 262.9,419.9 263.9,419.2 264.9,418.6 265.9,417.9 266.9,417.2 267.9,416.4 268.9,415.6 269.9,414.8 270.9,413.9 271.9,413.0 272.9,412.1 273.9,411.3 274.9,410.4 275.9,409.5 276.9,408.7 277.9,407.9 278.9,407.2 279.9,406.6 280.9,405.9 281.9,405.4 282.9,404.8 283.9,404.3 284.9,403.8 285.9,403.4 286.9,402.9 287.9,402.5 288.9,402.0 289.9,401.5 290.9,401.1 291.9,400.6 292.9,400.0 293.9,399.5 294.9,399.0 295.9,398.5 296.9,397.9 297.9,397.4 298.9,396.8 299.9,396.3 300.9,395.7 301.9,395.1 302.9,394.5 303.9,394.0 304.9,393.4 305.9,392.7 306.9,392.1 307.9,391.5 308.9,390.9 309.9,390.2 310.9,389.5 311.9,388.9 312.9,388.2 313.9,387.5 314.9,386.8 315.9,386.1 316.9,385.4 317.9,384.6 318.9,383.9 319.9,383.1 320.9,382.3 321.9,381.5 322.9,380.7 323.9,379.8 324.9,378.9 325.9,378.0 326.9,377.1 327.9,376.2 328.9,375.3 329.9,374.4 330.9,373.5 331.9,372.6 332.9,371.7 333.9,370.8 334.9,369.9 335.9,369.0 336.9,368.1 337.9,367.2 338.9,366.2 339.9,365.3 340.9,364.4 341.9,363.5 342.9,362.6 343.9,361.7 344.9,360.8 345.9,359.9 346.9,359.1 347.9,358.3 348.9,357.5 349.9,356.7 350.9,355.9 351.9,355.1 352.9,354.3 353.9,353.6 354.9,352.8 355.9,352.0 356.9,351.2 357.9,350.4 358.9,349.6 359.9,348.8 360.9,348.0 361.9,347.2 362.9,346.3 363.9,345.5 364.9,344.7 365.9,343.8 366.9,342.9 367.9,342.0 368.9,341.1 369.9,340.1 370.9,339.1 371.9,338.1 372.9,337.1 373.9,336.2 374.9,335.4 375.9,334.6 376.9,333.8 377.9,333.1 378.9,332.5 379.9,331.8 380.9,331.2 381.9,330.6 382.9,330.0 383.9,329.3 384.9,328.7 385.9,328.0 386.9,327.2 387.9,326.5 388.9,325.8 389.9,325.0 390.8,324.3 391.8,323.5 392.8,322.7 393.8,322.0 394.8,321.2 395.8,320.4 396.8,319.6 397.8,318.7 398.8,317.9 399.8,317.0 400.8,316.1 401.8,315.2 402.8,314.4 403.8,313.5 404.8,312.6 405.8,311.8 406.8,311.0 407.8,310.2 408.8,309.4 409.8,308.7 410.8,308.0 411.8,307.3 412.8,306.5 413.8,305.8 414.8,305.1 415.8,304.3 416.8,303.5 417.8,302.6 418.8,301.7 419.8,300.8 420.8,299.8 421.8,298.8 422.8,297.8 423.8,296.8 424.8,295.8 425.8,294.7 426.8,293.7 427.8,292.7 428.8,291.7 429.8,290.7 430.8,289.7 431.8,288.8 432.8,287.9 433.8,287.1 434.8,286.3 435.8,285.4 436.8,284.5 437.8,283.4 438.8,282.3 439.8,281.2 440.8,280.0 441.8,278.7 442.8,277.4 443.8,276.0 444.8,274.5 445.8,272.9 446.8,271.0 447.8,268.9 448.8,266.6 449.8,264.2 450.8,261.8 451.8,259.5 452.8,257.5 453.8,255.6 454.8,253.8 455.8,252.2 456.8,250.5 457.8,248.9 458.8,247.3 459.8,245.7 460.8,244.2 461.8,242.7 462.8,241.2 463.8,239.7 464.8,238.2 465.8,236.8 466.8,235.3 467.8,233.9 468.8,232.4 469.8,231.0 470.8,229.6 471.8,228.1 472.8,226.7 473.8,225.3 474.8,223.8 475.8,222.4 476.8,220.9 477.8,219.4 478.8,218.0 479.8,216.5 480.8,215.1 481.8,213.8 482.8,212.5 483.8,211.2 484.8,209.9 485.8,208.6 486.8,207.3 487.8,206.1 488.8,204.9 489.8,203.7 490.8,202.5 491.8,201.5 492.8,200.4 493.8,199.4 494.8,198.5 495.8,197.5 496.8,196.7 497.8,195.8 498.8,194.9 499.8,194.1 500.8,193.3 501.8,192.6 502.8,191.8 503.8,191.1 504.8,190.3 505.8,189.6 506.8,188.9 507.8,188.2 508.8,187.5 509.8,186.9 510.8,186.2 511.8,185.6 512.8,185.0 513.8,184.4 514.8,183.8 515.8,183.2 516.8,182.6 517.8,182.0 518.8,181.4 519.8,180.9 520.8,180.3 521.8,179.7 522.8,179.2 523.8,178.6 524.8,178.1 525.8,177.6 526.8,177.2 527.8,176.8 528.8,176.4 529.8,176.0 530.8,175.6 531.8,175.2 532.8,174.9 533.8,174.5 534.8,174.2 535.8,173.9 536.8,173.5 537.8,173.2 538.8,172.8 539.8,172.5 540.8,172.1 541.8,171.8 542.8,171.4 543.8,171.1 544.8,170.8 545.8,170.5 546.8,170.2 547.8,169.9 548.8,169.6 549.8,169.3 550.8,169.1 551.8,168.8 552.8,168.5 553.8,168.3 554.8,168.0 555.8,167.8 556.8,167.5 557.8,167.3 558.8,167.1 559.8,166.8 560.8,166.6 561.8,166.4 562.8,166.2 563.8,165.9 564.7,165.7 565.7,165.5 566.7,165.3 567.7,165.1 568.7,164.9 569.7,164.7 570.7,164.5 571.7,164.3 572.7,164.1 573.7,163.9 574.7,163.7 575.7,163.5 576.7,163.3 577.7,163.2 578.7,163.0 579.7,162.8 580.7,162.7 581.7,162.5 582.7,162.4 583.7,162.2 584.7,162.1 585.7,162.0 586.7,161.8 587.7,161.7 588.7,161.6 589.7,161.4 590.7,161.3 591.7,161.2 592.7,161.1 593.7,161.0 594.7,160.9 595.7,160.8 596.7,160.7 597.7,160.6 598.7,160.5 599.7,160.4 600.7,160.3 601.7,160.2 602.7,160.1 603.7,160.0 604.7,160.0 605.7,159.9 606.7,159.8 607.7,159.7 608.7,159.7 609.7,159.6 610.7,159.5 611.7,159.5 612.7,159.4 613.7,159.4 614.7,159.3 615.7,159.2 616.7,159.2 617.7,159.1 618.7,159.1 619.7,159.0 620.7,159.0 621.7,158.9 622.7,158.9 623.7,158.9 624.7,158.8 625.7,158.8 626.7,158.8 627.7,158.7 628.7,158.7 629.7,158.7 630.7,158.6 631.7,158.6 632.7,158.6 633.7,158.5 634.7,158.5 635.7,158.5 636.7,158.4 637.7,158.4 638.7,158.4 639.7,158.4 640.7,158.3 641.7,158.3 642.7,158.3 643.7,158.3 644.7,158.2 645.7,158.2 646.7,158.2 647.7,158.2 648.7,158.1 649.7,158.1 650.7,158.1 651.7,158.1 652.7,158.0 653.7,158.0 654.7,158.0 655.7,158.0 656.7,158.0 657.7,157.9 658.7,157.9 659.7,157.9 660.7,157.9 661.7,157.9 662.7,157.9 663.7,157.8 664.7,157.8 665.7,157.8 666.7,157.8 667.7,157.8 668.7,157.8 669.7,157.7 670.7,157.7 671.7,157.7 672.7,157.7 673.7,157.7 674.7,157.7 675.7,157.7 676.7,157.6 677.7,157.6 678.7,157.6 679.7,157.6 680.7,157.6 681.7,157.6 682.7,157.6 683.7,157.6 684.7,157.5 685.7,157.5 686.7,157.5 687.7,157.5 688.7,157.5 689.7,157.5 690.7,157.5 691.7,157.5 692.7,157.5 693.7,157.5 694.7,157.4 695.7,157.4 696.7,157.4 697.7,157.4 698.7,157.4 699.7,157.4 700.7,157.4 701.7,157.4 702.7,157.4 703.7,157.4 704.7,157.3 705.7,157.3 706.7,157.3 707.7,157.3 708.7,157.3 709.7,157.3 710.7,157.3 711.7,157.3 712.7,157.3 713.7,157.3 714.7,157.3 715.7,157.2 716.7,157.2 717.7,157.2 718.7,157.2 719.7,157.2 720.7,157.2 721.7,157.2 722.7,157.2 723.7,157.2 724.7,157.2 725.7,157.2 726.7,157.2 727.7,157.2 728.7,157.2 729.7,157.1 730.7,157.1 731.7,157.1 732.7,157.1 733.7,157.1 734.7,157.1 735.7,157.1 736.7,157.1 737.6,157.1 738.6,157.1 739.6,157.1 740.6,157.1 741.6,157.1 742.6,157.1 743.6,157.1 744.6,157.1 745.6,157.1 746.6,157.1 747.6,157.0 748.6,157.0 749.6,157.0 750.6,157.0 751.6,157.0 752.6,157.0 753.6,157.0 754.6,157.0 755.6,157.0 756.6,157.0 757.6,157.0 758.6,157.0 759.6,157.0 760.6,157.0 761.6,157.0 762.6,157.0 763.6,157.0 764.6,157.0 765.6,157.0 766.6,157.0 767.6,157.0 768.6,157.0 769.6,157.0 770.6,157.0 771.6,157.0 772.6,157.0 773.6,157.0 774.6,157.0 775.6,157.0 776.6,157.0 777.6,156.9 778.6,156.9 779.6,156.9 780.6,156.9 781.6,156.9 782.6,156.9 783.6,156.9 784.6,156.9 785.6,156.9 786.6,156.9 787.6,156.9 788.6,156.9 789.6,156.9 790.6,156.9 791.6,156.9 792.6,156.9 793.6,156.9 794.6,156.9 795.6,156.9 796.6,156.9 797.6,156.9 798.6,156.9 799.6,156.9 800.6,156.9 801.6,156.9 802.6,156.9 803.6,156.9 804.6,156.9 805.6,156.9 806.6,156.9 807.6,156.9 808.6,156.9 809.6,156.9 810.6,156.9 811.6,156.9 812.6,156.9 813.6,156.8 814.6,156.8 815.6,156.8 816.6,156.8 817.6,156.8 818.6,156.8 819.6,156.8 820.6,156.8 821.6,156.8 822.6,156.8 823.6,156.8 824.6,156.8 825.6,156.8 826.6,156.8 827.6,156.8 828.6,156.8 829.6,156.8 830.6,156.8 831.6,156.8 832.6,156.8 833.6,156.8 834.6,156.8 835.6,156.8 836.6,156.8 837.6,156.8 838.6,156.8 839.6,156.8 840.6,156.8 841.6,156.8 842.6,156.8 843.6,156.8 844.6,156.8 845.6,156.8 846.6,156.8 847.6,156.8 848.6,156.8 849.6,156.8 850.6,156.8 851.6,156.8 852.6,156.8 853.6,156.8 854.6,156.8 855.6,156.8 856.6,156.8 857.6,156.7 858.6,156.7 859.6,156.7 860.6,156.7 861.6,156.7 862.6,156.7 863.6,156.7 864.6,156.7 865.6,156.7 866.6,156.7 867.6,156.7 868.6,156.7 869.6,156.7 870.6,156.7 871.6,156.7 872.6,156.7 873.6,156.7 874.6,156.7 875.6,156.7 876.6,156.7 877.6,156.7 878.6,156.7 879.6,156.7 880.6,156.7 881.6,156.7 882.6,156.7 883.6,156.7 884.6,156.7 885.6,156.7 886.6,156.7 887.6,156.7 888.6,156.7 889.6,156.7 890.6,156.7 891.6,156.7 892.6,156.7 893.6,156.7 894.6,156.7 895.6,156.7 896.6,156.7 897.6,156.7 898.6,156.7 899.6,156.7 900.6,156.7 901.6,156.7 902.6,156.7 903.6,156.7 904.6,156.7 905.6,156.7 906.6,156.7 907.6,156.7 908.6,156.7 909.6,156.7 910.6,156.7 911.5,156.7 912.5,156.7 913.5,156.7 914.5,156.7 915.5,156.7 916.5,156.7 917.5,156.7 918.5,156.6 919.5,156.6 920.5,156.6 921.5,156.6 922.5,156.6 923.5,156.6 924.5,156.6 925.5,156.6 926.5,156.6 927.5,156.6 928.5,156.6 929.5,156.6 930.5,156.6 931.5,156.6 932.5,156.6 933.5,156.6 934.5,156.6 935.5,156.6 936.5,156.6 937.5,156.6 938.5,156.6 939.5,156.6 940.5,156.6 941.5,156.6 942.5,156.6 943.5,156.6 944.5,156.6 945.5,156.6 946.5,156.6 947.5,156.6 948.5,156.6 949.5,156.6 950.5,156.6 951.5,156.6 952.5,156.6 953.5,156.6 954.5,156.6 955.5,156.6 956.5,156.6 957.5,156.6 958.5,156.6 959.5,156.6 960.5,156.6 961.5,156.6 962.5,156.6 963.5,156.6 964.5,156.6 965.5,156.6 966.5,156.6 967.5,156.6 968.5,156.6 969.5,156.6 970.5,156.6 971.5,156.6 972.5,156.6 973.5,156.6 974.5,156.6 975.5,156.6 976.5,156.6 977.5,156.6 978.5,156.6 979.5,156.6 980.5,156.6 981.5,156.6 982.5,156.6 983.5,156.6 984.5,156.6 985.5,156.6 986.5,156.6 987.5,156.6 988.5,156.6 989.5,156.6 990.5,156.6 991.5,156.6 992.5,156.6 993.5,156.6 994.5,156.6 995.5,156.6 996.5,156.6 997.5,156.6"/><polyline class="s" marker-start="url(#mBH)" marker-mid="url(#mBH)" marker-end="url(#mBH)" points="130.0,612.8 132.0,611.4 134.0,610.1 136.0,608.8 138.0,607.5 140.0,606.3 142.0,605.1 144.0,603.9 146.0,602.7 148.0,601.5 150.0,600.3 152.0,599.1 154.0,597.8 156.0,596.5 158.0,595.2 160.0,593.9 162.0,592.6 164.0,591.3 166.0,590.1 168.0,588.8 170.0,587.5 172.0,586.3 174.0,585.1 176.0,583.9 178.0,582.8 180.0,581.8 182.0,580.9 184.0,579.8 186.0,578.5 188.0,577.1 190.0,575.6 192.0,574.2 194.0,572.9 196.0,571.5 198.0,570.1 200.0,568.5 202.0,566.9 204.0,565.3 206.0,563.8 208.0,562.2 210.0,560.5 212.0,558.4 214.0,555.7 216.0,552.9 218.0,550.2 220.0,547.4 222.0,544.5 224.0,541.8 226.0,539.1 228.0,536.7 230.0,534.3 232.0,531.9 234.0,529.6 236.0,527.2 238.0,524.8 240.0,522.5 242.0,520.2 244.0,517.9 246.0,515.6 248.0,513.4 250.0,511.2 252.0,509.0 254.0,506.7 256.0,504.3 258.0,501.7 260.0,499.0 262.0,496.1 264.0,493.3 266.0,490.4 268.0,487.6 270.0,485.0 272.0,482.4 274.0,479.8 275.9,477.1 277.9,474.5 279.9,471.7 281.9,468.7 283.9,465.7 285.9,462.6 287.9,459.5 289.9,456.5 291.9,453.4 293.9,450.4 295.9,447.4 297.9,444.4 299.9,441.4 301.9,438.5 303.9,435.6 305.9,432.8 307.9,430.0 309.9,427.2 311.9,424.4 313.9,421.6 315.9,418.8 317.9,415.9 319.9,413.1 321.9,410.4 323.9,407.7 325.9,405.0 327.9,402.3 329.9,399.7 331.9,397.3 333.9,395.0 335.9,392.9 337.9,391.0 339.9,389.1 341.9,387.3 343.9,385.3 345.9,383.3 347.9,381.0 349.9,378.7 351.9,376.3 353.9,373.8 355.9,371.4 357.9,368.9 359.9,366.5 361.9,364.1 363.9,361.6 365.9,359.2 367.9,356.8 369.9,354.4 371.9,352.0 373.9,349.7 375.9,347.3 377.9,345.0 379.9,342.6 381.9,340.3 383.9,338.1 385.9,335.9 387.9,333.7 389.9,331.6 391.9,329.5 393.9,327.5 395.9,325.4 397.9,323.3 399.9,321.2 401.9,319.0 403.9,316.9 405.9,314.9 407.9,313.0 409.9,311.3 411.9,309.6 413.9,307.9 415.9,306.1 417.9,303.9 419.9,300.9 421.9,298.7 423.9,296.9 425.9,295.4 427.9,294.0 429.9,292.7 431.9,291.5 433.9,290.4 435.9,289.3 437.9,288.2 439.9,287.1 441.9,285.9 443.9,284.7 445.9,283.6 447.9,282.4 449.9,281.3 451.9,280.2 453.9,279.1 455.9,278.0 457.9,276.8 459.9,275.5 461.9,274.1 463.9,272.7 465.9,271.0 467.9,269.1 469.9,267.2 471.9,265.3 473.9,263.6 475.9,262.0 477.9,260.6 479.9,259.2 481.9,257.8 483.9,256.3 485.9,254.6 487.9,252.8 489.9,250.8 491.9,248.8 493.9,246.6 495.9,244.1 497.9,241.5 499.9,238.7 501.9,235.6 503.9,232.2 505.9,228.6 507.9,225.0 509.9,221.3 511.9,217.5 513.9,213.9 515.9,210.4 517.9,207.0 519.9,203.6 521.9,200.2 523.9,197.0 525.9,193.6 527.9,188.8 529.9,182.5 531.9,172.7 533.9,164.7 535.9,157.8 537.9,151.2 539.9,144.7 541.9,138.1 543.9,131.5 545.9,124.6 547.9,118.8 549.9,113.9 551.9,110.0 553.9,106.6 555.9,103.0 557.9,99.6 559.9,96.1 561.9,91.9 563.9,87.7 565.8,84.0 567.8,80.6 569.8,77.5 571.8,74.6 573.8,72.0 575.8,70.1 577.8,68.5 579.8,67.4 581.8,67.1 583.8,66.8 585.8,66.6 587.8,66.2 589.8,64.9 591.8,62.9 593.8,60.9 595.8,58.3 597.8,55.6 599.8,53.8 601.8,53.0 603.8,52.6 605.8,53.0 607.8,53.6 609.8,53.3 611.8,52.0 613.8,50.2 615.8,48.4 617.8,45.9 619.8,44.3 621.8,43.7 623.8,43.7 625.8,44.5 627.8,46.0 629.8,47.7 631.8,50.4 633.8,53.8 635.8,57.0 637.8,60.0 639.8,62.8 641.8,65.7 643.8,68.5 645.8,71.3 647.8,74.1 649.8,76.9 651.8,79.7 653.8,82.5 655.8,85.3 657.8,88.0 659.8,90.7 661.8,93.3 663.8,96.0 665.8,98.8 667.8,101.6 669.8,104.4 671.8,107.4 673.8,110.7 675.8,114.5 677.8,118.6 679.8,122.8 681.8,127.0 683.8,131.4 685.8,135.7 687.8,140.1 689.8,144.3 691.8,148.3 693.8,152.1 695.8,155.8 697.8,159.3 699.8,162.8 701.8,166.3 703.8,169.6 705.8,172.8 707.8,175.9 709.8,179.3 711.8,183.0 713.8,187.3 715.8,192.0 717.8,197.1 719.8,202.8 721.8,209.0 723.8,215.9 725.8,223.0 727.8,229.3 729.8,235.2 731.8,241.6 733.8,248.2 735.8,254.1 737.8,259.5 739.8,264.6 741.8,269.7 743.8,274.7 745.8,279.5 747.8,284.8 749.8,290.7 751.8,296.9 753.8,303.0 755.8,309.0 757.8,314.4 759.8,319.9 761.8,325.8 763.8,331.9 765.8,337.8 767.8,343.4 769.8,348.9 771.8,354.4 773.8,359.9 775.8,365.1 777.8,370.1 779.8,374.8 781.8,379.2 783.8,383.7 785.8,388.3 787.8,392.5 789.8,396.6 791.8,400.5 793.8,404.3 795.8,408.1 797.8,411.7 799.8,415.1 801.8,418.3 803.8,421.3 805.8,424.2 807.8,426.8 809.8,429.4 811.8,431.8 813.8,434.2 815.8,436.5 817.8,438.8 819.8,441.1 821.8,443.3 823.8,445.4 825.8,447.3 827.8,449.2 829.8,450.9 831.8,452.7 833.8,454.4 835.8,456.2 837.8,458.1 839.8,460.1 841.8,462.0 843.8,463.8 845.8,465.5 847.8,467.2 849.8,468.8 851.8,470.4 853.8,471.9 855.7,473.4 857.7,474.8 859.7,476.3 861.7,477.6 863.7,479.0 865.7,480.3 867.7,481.6 869.7,482.8 871.7,484.0 873.7,485.1 875.7,486.3 877.7,487.3 879.7,488.4 881.7,489.4 883.7,490.3 885.7,491.3 887.7,492.3 889.7,493.4 891.7,494.4 893.7,495.4 895.7,496.3 897.7,497.2 899.7,498.0 901.7,498.8 903.7,499.6 905.7,500.4 907.7,501.1 909.7,501.9 911.7,502.8 913.7,503.6 915.7,504.3 917.7,505.0 919.7,505.7 921.7,506.3 923.7,507.0 925.7,507.6 927.7,508.2 929.7,508.7 931.7,509.3 933.7,509.9 935.7,510.4 937.7,510.9 939.7,511.5 941.7,512.0 943.7,512.5 945.7,513.0 947.7,513.4 949.7,513.9 951.7,514.4 953.7,514.9 955.7,515.4 957.7,515.9 959.7,516.4 961.7,516.9 963.7,517.4 965.7,517.9 967.7,518.4 969.7,518.9 971.7,519.4 973.7,519.9 975.7,520.5 977.7,521.0 979.7,521.6 981.7,522.1 983.7,522.8 985.7,523.4 987.7,524.1 989.7,525.1 991.7,528.2 993.7,532.5 995.7,537.4 997.7,542.1 999.7,546.2"/><polyline class="s" marker-start="url(#mBF)" marker-mid="url(#mBF)" marker-end="url(#mBF)" points="130.0,642.2 131.0,642.2 132.0,642.1 133.0,642.1 134.0,642.0 135.0,641.9 136.0,641.8 137.0,641.7 138.0,641.6 139.0,641.5 140.0,641.4 141.0,641.2 142.0,641.0 143.0,640.7 144.0,640.5 145.0,640.2 146.0,639.9 147.0,639.6 148.0,639.2 149.0,638.8 150.0,638.3 151.0,637.8 152.0,637.2 153.0,636.4 154.0,635.4 155.0,634.4 156.0,633.2 157.0,632.1 158.0,630.9 159.0,629.7 160.0,628.4 161.0,627.0 162.0,625.5 163.0,624.1 164.0,622.6 165.0,621.1 166.0,619.5 167.0,617.9 168.0,616.3 169.0,614.6 170.0,613.0 171.0,611.3 172.0,609.7 173.0,608.2 174.0,606.6 175.0,605.0 176.0,603.4 177.0,601.8 178.0,600.2 179.0,598.5 180.0,596.8 181.0,595.1 182.0,593.4 183.0,591.7 184.0,590.0 185.0,588.3 186.0,586.6 187.0,584.9 188.0,583.2 189.0,581.6 190.0,579.8 191.0,578.1 192.0,576.3 193.0,574.6 194.0,572.7 195.0,570.9 196.0,569.1 197.0,567.4 198.0,565.6 199.0,564.0 200.0,562.3 201.0,560.6 202.0,558.8 203.0,557.0 204.0,555.1 205.0,553.2 206.0,551.3 207.0,549.3 208.0,547.3 209.0,545.3 210.0,543.2 211.0,541.1 212.0,538.9 213.0,536.6 214.0,534.2 215.0,531.7 216.0,529.3 216.9,526.8 217.9,524.5 218.9,522.2 219.9,520.1 220.9,518.1 221.9,516.2 222.9,514.4 223.9,512.6 224.9,510.8 225.9,509.1 226.9,507.4 227.9,505.8 228.9,504.1 229.9,502.4 230.9,500.8 231.9,499.1 232.9,497.4 233.9,495.7 234.9,493.9 235.9,492.1 236.9,490.3 237.9,488.6 238.9,486.7 239.9,484.9 240.9,483.1 241.9,481.3 242.9,479.5 243.9,477.7 244.9,475.9 245.9,474.1 246.9,472.3 247.9,470.5 248.9,468.6 249.9,466.8 250.9,465.0 251.9,463.2 252.9,461.4 253.9,459.6 254.9,457.9 255.9,456.3 256.9,454.6 257.9,453.0 258.9,451.4 259.9,449.8 260.9,448.2 261.9,446.7 262.9,445.2 263.9,443.7 264.9,442.2 265.9,440.7 266.9,439.2 267.9,437.8 268.9,436.4 269.9,435.1 270.9,433.7 271.9,432.4 272.9,431.0 273.9,429.7 274.9,428.4 275.9,427.1 276.9,425.8 277.9,424.4 278.9,423.1 279.9,421.7 280.9,420.3 281.9,419.0 282.9,417.6 283.9,416.2 284.9,414.8 285.9,413.4 286.9,412.0 287.9,410.6 288.9,409.2 289.9,407.8 290.9,406.4 291.9,405.0 292.9,403.6 293.9,402.2 294.9,400.8 295.9,399.3 296.9,397.9 297.9,396.4 298.9,394.9 299.9,393.4 300.9,392.0 301.9,390.6 302.9,389.2 303.9,387.8 304.9,386.5 305.9,385.2 306.9,384.0 307.9,382.8 308.9,381.6 309.9,380.4 310.9,379.3 311.9,378.2 312.9,377.1 313.9,376.0 314.9,375.0 315.9,373.9 316.9,372.9 317.9,371.9 318.9,370.9 319.9,369.9 320.9,368.9 321.9,368.0 322.9,367.0 323.9,366.1 324.9,365.1 325.9,364.2 326.9,363.3 327.9,362.4 328.9,361.5 329.9,360.7 330.9,359.8 331.9,359.0 332.9,358.2 333.9,357.4 334.9,356.6 335.9,355.8 336.9,355.0 337.9,354.2 338.9,353.4 339.9,352.7 340.9,352.0 341.9,351.2 342.9,350.5 343.9,349.9 344.9,349.2 345.9,348.6 346.9,347.9 347.9,347.3 348.9,346.8 349.9,346.2 350.9,345.7 351.9,345.1 352.9,344.6 353.9,344.1 354.9,343.6 355.9,343.0 356.9,342.5 357.9,341.9 358.9,341.4 359.9,340.8 360.9,340.2 361.9,339.5 362.9,338.9 363.9,338.3 364.9,337.8 365.9,337.4 366.9,336.9 367.9,336.5 368.9,336.2 369.9,335.8 370.9,335.4 371.9,335.1 372.9,334.7 373.9,334.3 374.9,333.9 375.9,333.4 376.9,333.0 377.9,332.5 378.9,332.0 379.9,331.5 380.9,331.0 381.9,330.4 382.9,329.9 383.9,329.4 384.9,328.9 385.9,328.4 386.9,327.9 387.9,327.4 388.9,326.9 389.9,326.5 390.8,326.0 391.8,325.5 392.8,325.0 393.8,324.5 394.8,324.0 395.8,323.5 396.8,322.9 397.8,322.3 398.8,321.6 399.8,320.9 400.8,320.2 401.8,319.5 402.8,318.8 403.8,318.1 404.8,317.4 405.8,316.8 406.8,316.2 407.8,315.6 408.8,315.0 409.8,314.4 410.8,313.9 411.8,313.3 412.8,312.8 413.8,312.3 414.8,311.7 415.8,311.2 416.8,310.7 417.8,310.1 418.8,309.6 419.8,309.0 420.8,308.5 421.8,307.9 422.8,307.4 423.8,306.8 424.8,306.3 425.8,305.7 426.8,305.2 427.8,304.6 428.8,304.0 429.8,303.5 430.8,302.9 431.8,302.3 432.8,301.7 433.8,301.0 434.8,300.4 435.8,299.7 436.8,299.0 437.8,298.3 438.8,297.6 439.8,296.9 440.8,296.2 441.8,295.4 442.8,294.7 443.8,294.0 444.8,293.3 445.8,292.6 446.8,291.9 447.8,291.2 448.8,290.5 449.8,289.8 450.8,289.1 451.8,288.4 452.8,287.7 453.8,287.0 454.8,286.3 455.8,285.6 456.8,284.9 457.8,284.2 458.8,283.5 459.8,282.8 460.8,282.2 461.8,281.6 462.8,281.0 463.8,280.4 464.8,279.8 465.8,279.2 466.8,278.5 467.8,277.8 468.8,277.1 469.8,276.3 470.8,275.4 471.8,274.5 472.8,273.4 473.8,272.1 474.8,270.6 475.8,269.0 476.8,267.3 477.8,265.4 478.8,263.4 479.8,261.1 480.8,258.8 481.8,256.3 482.8,254.0 483.8,251.6 484.8,249.2 485.8,246.8 486.8,244.4 487.8,242.2 488.8,240.1 489.8,238.2 490.8,236.5 491.8,234.8 492.8,233.2 493.8,231.6 494.8,230.0 495.8,228.4 496.8,226.9 497.8,225.2 498.8,223.5 499.8,221.7 500.8,219.9 501.8,218.0 502.8,216.2 503.8,214.4 504.8,212.6 505.8,210.8 506.8,209.1 507.8,207.5 508.8,206.0 509.8,204.5 510.8,203.0 511.8,201.5 512.8,200.1 513.8,198.7 514.8,197.3 515.8,195.9 516.8,194.5 517.8,193.1 518.8,191.6 519.8,190.2 520.8,188.8 521.8,187.4 522.8,186.0 523.8,184.6 524.8,183.2 525.8,181.7 526.8,180.3 527.8,178.9 528.8,177.6 529.8,176.5 530.8,175.6 531.8,174.8 532.8,174.1 533.8,173.4 534.8,172.9 535.8,172.3 536.8,171.8 537.8,171.2 538.8,170.7 539.8,170.2 540.8,169.6 541.8,169.1 542.8,168.5 543.8,167.9 544.8,167.3 545.8,166.7 546.8,166.1 547.8,165.5 548.8,165.0 549.8,164.4 550.8,163.9 551.8,163.4 552.8,163.0 553.8,162.5 554.8,162.1 555.8,161.7 556.8,161.3 557.8,160.9 558.8,160.5 559.8,160.1 560.8,159.8 561.8,159.4 562.8,159.1 563.8,158.7 564.7,158.4 565.7,158.1 566.7,157.7 567.7,157.4 568.7,157.1 569.7,156.8 570.7,156.5 571.7,156.2 572.7,156.0 573.7,155.7 574.7,155.5 575.7,155.2 576.7,155.0 577.7,154.7 578.7,154.5 579.7,154.3 580.7,154.1 581.7,153.9 582.7,153.7 583.7,153.5 584.7,153.3 585.7,153.1 586.7,152.9 587.7,152.8 588.7,152.6 589.7,152.4 590.7,152.2 591.7,152.1 592.7,151.9 593.7,151.8 594.7,151.6 595.7,151.4 596.7,151.3 597.7,151.2 598.7,151.0 599.7,150.9 600.7,150.7 601.7,150.6 602.7,150.5 603.7,150.4 604.7,150.2 605.7,150.1 606.7,150.0 607.7,149.9 608.7,149.8 609.7,149.7 610.7,149.6 611.7,149.5 612.7,149.4 613.7,149.3 614.7,149.2 615.7,149.1 616.7,149.0 617.7,148.9 618.7,148.8 619.7,148.7 620.7,148.6 621.7,148.6 622.7,148.5 623.7,148.4 624.7,148.3 625.7,148.3 626.7,148.2 627.7,148.1 628.7,148.1 629.7,148.0 630.7,148.0 631.7,147.9 632.7,147.8 633.7,147.8 634.7,147.7 635.7,147.7 636.7,147.6 637.7,147.6 638.7,147.5 639.7,147.5 640.7,147.4 641.7,147.4 642.7,147.3 643.7,147.3 644.7,147.3 645.7,147.2 646.7,147.2 647.7,147.2 648.7,147.1 649.7,147.1 650.7,147.1 651.7,147.0 652.7,147.0 653.7,147.0 654.7,146.9 655.7,146.9 656.7,146.9 657.7,146.8 658.7,146.8 659.7,146.8 660.7,146.8 661.7,146.7 662.7,146.7 663.7,146.7 664.7,146.7 665.7,146.6 666.7,146.6 667.7,146.6 668.7,146.6 669.7,146.5 670.7,146.5 671.7,146.5 672.7,146.5 673.7,146.5 674.7,146.5 675.7,146.4 676.7,146.4 677.7,146.4 678.7,146.4 679.7,146.4 680.7,146.4 681.7,146.4 682.7,146.4 683.7,146.4 684.7,146.4 685.7,146.4 686.7,146.4 687.7,146.3 688.7,146.3 689.7,146.3 690.7,146.3 691.7,146.3 692.7,146.3 693.7,146.3 694.7,146.3 695.7,146.3 696.7,146.3 697.7,146.3 698.7,146.3 699.7,146.3 700.7,146.3 701.7,146.3 702.7,146.3 703.7,146.3 704.7,146.3 705.7,146.2 706.7,146.2 707.7,146.2 708.7,146.2 709.7,146.2 710.7,146.2 711.7,146.2 712.7,146.2 713.7,146.2 714.7,146.2 715.7,146.2 716.7,146.2 717.7,146.2 718.7,146.2 719.7,146.2 720.7,146.2 721.7,146.2 722.7,146.2 723.7,146.2 724.7,146.2 725.7,146.2 726.7,146.2 727.7,146.2 728.7,146.2 729.7,146.2 730.7,146.2 731.7,146.2 732.7,146.1 733.7,146.1 734.7,146.1 735.7,146.1 736.7,146.1 737.6,146.1 738.6,146.1 739.6,146.1 740.6,146.1 741.6,146.1 742.6,146.1 743.6,146.1 744.6,146.1 745.6,146.1 746.6,146.1 747.6,146.1 748.6,146.1 749.6,146.1 750.6,146.1 751.6,146.1 752.6,146.1 753.6,146.1 754.6,146.1 755.6,146.1 756.6,146.1 757.6,146.1 758.6,146.1 759.6,146.1 760.6,146.1 761.6,146.1 762.6,146.1 763.6,146.1 764.6,146.1 765.6,146.1 766.6,146.1 767.6,146.1 768.6,146.1 769.6,146.1 770.6,146.1 771.6,146.1 772.6,146.1 773.6,146.1 774.6,146.1 775.6,146.1 776.6,146.1 777.6,146.1 778.6,146.1 779.6,146.1 780.6,146.1 781.6,146.1 782.6,146.1 783.6,146.1 784.6,146.1 785.6,146.1 786.6,146.1 787.6,146.1 788.6,146.1 789.6,146.1 790.6,146.1 791.6,146.1 792.6,146.1 793.6,146.1 794.6,146.1 795.6,146.1 796.6,146.1 797.6,146.1 798.6,146.1 799.6,146.1 800.6,146.1 801.6,146.1 802.6,146.1 803.6,146.1 804.6,146.1 805.6,146.1 806.6,146.1 807.6,146.1 808.6,146.1 809.6,146.1 810.6,146.1 811.6,146.1 812.6,146.1 813.6,146.1 814.6,146.1 815.6,146.1 816.6,146.1 817.6,146.1 818.6,146.1 819.6,146.1 820.6,146.1 821.6,146.1 822.6,146.1 823.6,146.1 824.6,146.1 825.6,146.1 826.6,146.1 827.6,146.1 828.6,146.0 829.6,146.0 830.6,146.0 831.6,146.0 832.6,146.0 833.6,146.0 834.6,146.0 835.6,146.0 836.6,146.0 837.6,146.0 838.6,146.0 839.6,146.0 840.6,146.0 841.6,146.0 842.6,146.0 843.6,146.0 844.6,146.0 845.6,146.0 846.6,146.0 847.6,146.0 848.6,146.0 849.6,146.0 850.6,146.0 851.6,146.0 852.6,146.0 853.6,146.0 854.6,146.0 855.6,146.0 856.6,146.0 857.6,146.0 858.6,146.0 859.6,146.0 860.6,146.0 861.6,146.0 862.6,146.0 863.6,146.0 864.6,146.0 865.6,146.0 866.6,146.0 867.6,146.0 868.6,146.0 869.6,146.0 870.6,146.0 871.6,146.0 872.6,146.0 873.6,146.0 874.6,146.0 875.6,146.0 876.6,146.0 877.6,146.0 878.6,146.0 879.6,146.0 880.6,146.0 881.6,146.0 882.6,146.0 883.6,146.0 884.6,146.0 885.6,146.0 886.6,146.0 887.6,146.0 888.6,146.0 889.6,146.0 890.6,146.0 891.6,146.0 892.6,146.0 893.6,146.0 894.6,146.0 895.6,146.0 896.6,146.0 897.6,146.0 898.6,146.0 899.6,146.0 900.6,146.0 901.6,146.0 902.6,146.0 903.6,146.0 904.6,146.0 905.6,146.0 906.6,146.0 907.6,146.0 908.6,146.0 909.6,146.0 910.6,146.0 911.5,146.0 912.5,146.0 913.5,146.0 914.5,146.0 915.5,146.0 916.5,146.0 917.5,146.0 918.5,146.0 919.5,146.0 920.5,146.0 921.5,146.0 922.5,146.0 923.5,146.0 924.5,146.0 925.5,146.0 926.5,146.0 927.5,146.0 928.5,146.0 929.5,146.0 930.5,146.0 931.5,146.0 932.5,146.0 933.5,146.0 934.5,146.0 935.5,146.0 936.5,146.0 937.5,146.0 938.5,146.0 939.5,146.0 940.5,146.0 941.5,146.0 942.5,146.0 943.5,146.0 944.5,146.0 945.5,146.0 946.5,146.0 947.5,146.0 948.5,146.0 949.5,146.0 950.5,146.0 951.5,146.0 952.5,146.0 953.5,146.0 954.5,146.0 955.5,146.0 956.5,146.0 957.5,146.0 958.5,146.0 959.5,146.0 960.5,146.0 961.5,146.0 962.5,146.0 963.5,146.0 964.5,146.0 965.5,146.0 966.5,146.0 967.5,146.0 968.5,146.0 969.5,146.0 970.5,146.0 971.5,146.0 972.5,146.0 973.5,146.0 974.5,146.0 975.5,146.0 976.5,146.0 977.5,146.0 978.5,146.0 979.5,146.0 980.5,146.0 981.5,146.0 982.5,146.0 983.5,146.0 984.5,146.0 985.5,146.0 986.5,146.0 987.5,146.0 988.5,146.0 989.5,146.0 990.5,146.0 991.5,146.0 992.5,146.0 993.5,146.0 994.5,146.0 995.5,146.0 996.5,146.0 997.5,146.0"/>
<text class="tk" x="86.1" y="676.8" textLength="16.0" lengthAdjust="spacingAndGlyphs">0</text>
<text class="tk" x="54.1" y="584.9" textLength="48.0" lengthAdjust="spacingAndGlyphs">100</text>
<text class="tk" x="54.1" y="493.1" textLength="48.0" lengthAdjust="spacingAndGlyphs">200</text>
<text class="tk" x="54.1" y="401.2" textLength="48.0" lengthAdjust="spacingAndGlyphs">300</text>
<text class="tk" x="54.1" y="309.4" textLength="48.0" lengthAdjust="spacingAndGlyphs">400</text>
<text class="tk" x="54.1" y="217.5" textLength="48.0" lengthAdjust="spacingAndGlyphs">500</text>
<text class="tk" x="54.1" y="125.7" textLength="48.0" lengthAdjust="spacingAndGlyphs">600</text>
<text class="tk" x="54.1" y="33.8" textLength="48.0" lengthAdjust="spacingAndGlyphs">700</text>
<text class="tk" x="122.6" y="716.4" textLength="16.0" lengthAdjust="spacingAndGlyphs">0</text>
<text class="tk" x="267.5" y="716.4" textLength="16.0" lengthAdjust="spacingAndGlyphs">5</text>
<text class="tk" x="404.3" y="716.4" textLength="32.0" lengthAdjust="spacingAndGlyphs">10</text>
<text class="tk" x="549.2" y="716.4" textLength="32.0" lengthAdjust="spacingAndGlyphs">15</text>
<text class="tk" x="694.1" y="716.4" textLength="32.0" lengthAdjust="spacingAndGlyphs">20</text>
<text class="tk" x="838.9" y="716.4" textLength="32.0" lengthAdjust="spacingAndGlyphs">25</text>
<text class="tk" x="983.8" y="716.4" textLength="32.0" lengthAdjust="spacingAndGlyphs">30</text>
<text class="ti" x="477.4" y="746.3" textLength="180.2" lengthAdjust="spacingAndGlyphs">Tau [s/mm^2]</text>
<text class="ti" transform="translate(33.7,492.6) rotate(-90)" textLength="263.5" lengthAdjust="spacingAndGlyphs">Temperature [Deg C]</text>
<rect x="490.9" y="331.9" width="240.5" height="327.5" fill="#fff" stroke="#868686" stroke-width="1.35"/>
<polyline class="s" marker-start="url(#mPX)" points="508.7,349.2 508.8,349.2"/><text class="lg" x="521.5" y="355.7" textLength="177.3" lengthAdjust="spacingAndGlyphs">100:130_Bot_Exp</text>
<text class="lg" x="521.5" y="388.4" textLength="203.6" lengthAdjust="spacingAndGlyphs">100:130_Bot_Gpyro</text>
<polyline class="s" marker-start="url(#mYS)" points="508.7,414.5 508.8,414.5"/><text class="lg" x="521.5" y="421.1" textLength="177.3" lengthAdjust="spacingAndGlyphs">100:100_Bot_Exp</text>
<polyline class="s" marker-start="url(#mOS)" points="508.7,447.2 508.8,447.2"/><text class="lg" x="521.5" y="453.8" textLength="203.6" lengthAdjust="spacingAndGlyphs">100:100_Bot_Gpyro</text>
<polyline class="s" marker-start="url(#mLT)" points="508.7,479.9 508.8,479.9"/><text class="lg" x="521.5" y="486.5" textLength="164.3" lengthAdjust="spacingAndGlyphs">100:66_Bot_Exp</text>
<polyline class="s" marker-start="url(#mDT)" points="508.7,512.5 508.8,512.5"/><text class="lg" x="521.5" y="519.2" textLength="190.7" lengthAdjust="spacingAndGlyphs">100:66_Bot_Gpyro</text>
<polyline class="s" marker-start="url(#mRC)" points="508.7,545.2 508.8,545.2"/><text class="lg" x="521.5" y="551.9" textLength="164.3" lengthAdjust="spacingAndGlyphs">100:33_Bot_Exp</text>
<polyline class="s" marker-start="url(#mRF)" points="508.7,577.9 508.8,577.9"/><text class="lg" x="521.5" y="584.6" textLength="190.7" lengthAdjust="spacingAndGlyphs">100:33_Bot_Gpyro</text>
<polyline class="s" marker-start="url(#mBH)" points="508.7,610.6 508.8,610.6"/><text class="lg" x="521.5" y="617.3" textLength="151.6" lengthAdjust="spacingAndGlyphs">100:0_Bot_Exp</text>
<polyline class="s" marker-start="url(#mBF)" points="508.7,643.2 508.8,643.2"/><text class="lg" x="521.5" y="650.0" textLength="177.8" lengthAdjust="spacingAndGlyphs">100:0_Bot_Gpyro</text>
</svg>
</body></html>
